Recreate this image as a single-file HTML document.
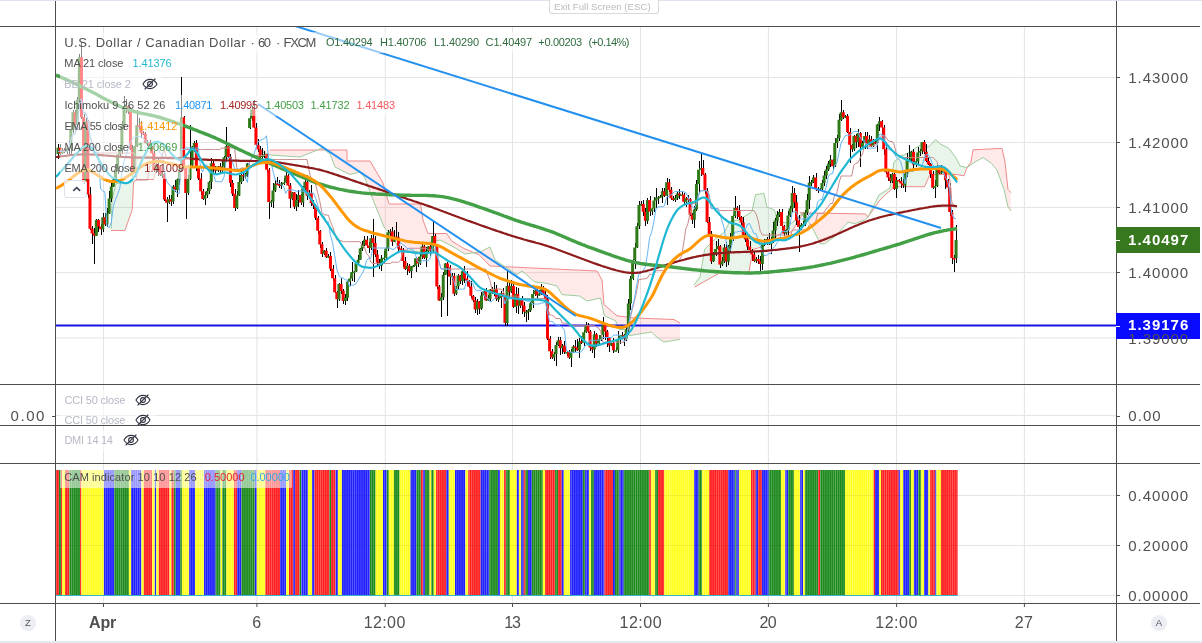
<!DOCTYPE html>
<html lang="en"><head><meta charset="utf-8"><title>USDCAD chart</title>
<style>
html,body{margin:0;padding:0;background:#fff;}
body{width:1202px;height:643px;position:relative;overflow:hidden;font-family:"Liberation Sans","DejaVu Sans",sans-serif;color:#4a4a4a;}
.chart{position:absolute;left:0;top:0;}
.topline{position:absolute;left:0;top:0;width:1202px;height:1px;background:#dfe3ee;}
.botline{position:absolute;left:0;top:641px;width:1202px;height:2px;background:#e6e9f1;}
.exit{position:absolute;left:549px;top:0;width:108px;height:13px;border:1px solid #d9d9d9;border-top:none;border-radius:0 0 3px 3px;background:#fff;}
.t{position:absolute;white-space:pre;}
.bx{position:absolute;background:rgba(255,255,255,0.53);border-radius:1px;}
.eye{position:absolute;}
.tag{position:absolute;left:1116px;width:84px;height:26px;}
.tag i{position:absolute;left:0;top:12.5px;width:4px;height:1px;background:#fff;}
.circ{position:absolute;width:16px;height:16px;border-radius:8px;background:#eceef3;font-size:9.5px;line-height:16px;text-align:center;color:#555;}
.collapse{position:absolute;left:64px;top:180px;width:21px;height:16px;border:1px solid #dde1ec;border-radius:3px;background:rgba(255,255,255,0.8);}
</style></head><body>
<svg class="chart" width="1202" height="643" viewBox="0 0 1202 643">
<line x1="103.5" y1="27" x2="103.5" y2="603" stroke="#e4e4e4" stroke-width="1"/>
<line x1="256.9" y1="27" x2="256.9" y2="603" stroke="#e4e4e4" stroke-width="1"/>
<line x1="385.2" y1="27" x2="385.2" y2="603" stroke="#e4e4e4" stroke-width="1"/>
<line x1="512.5" y1="27" x2="512.5" y2="603" stroke="#e4e4e4" stroke-width="1"/>
<line x1="640.5" y1="27" x2="640.5" y2="603" stroke="#e4e4e4" stroke-width="1"/>
<line x1="768.4" y1="27" x2="768.4" y2="603" stroke="#e4e4e4" stroke-width="1"/>
<line x1="896.6" y1="27" x2="896.6" y2="603" stroke="#e4e4e4" stroke-width="1"/>
<line x1="1024.4" y1="27" x2="1024.4" y2="603" stroke="#e4e4e4" stroke-width="1"/>
<line x1="56" y1="77.5" x2="1116" y2="77.5" stroke="#e4e4e4" stroke-width="1"/>
<line x1="56" y1="142.5" x2="1116" y2="142.5" stroke="#e4e4e4" stroke-width="1"/>
<line x1="56" y1="207.5" x2="1116" y2="207.5" stroke="#e4e4e4" stroke-width="1"/>
<line x1="56" y1="272.6" x2="1116" y2="272.6" stroke="#e4e4e4" stroke-width="1"/>
<line x1="56" y1="337.9" x2="1116" y2="337.9" stroke="#e4e4e4" stroke-width="1"/>
<line x1="56" y1="415.5" x2="1116" y2="415.5" stroke="#e4e4e4" stroke-width="1"/>
<line x1="56" y1="495.5" x2="1116" y2="495.5" stroke="#e4e4e4" stroke-width="1"/>
<line x1="56" y1="545.5" x2="1116" y2="545.5" stroke="#e4e4e4" stroke-width="1"/>
<line x1="56" y1="595.5" x2="1116" y2="595.5" stroke="#e4e4e4" stroke-width="1"/>
<defs><clipPath id="mp"><rect x="56" y="27" width="1060" height="357"/></clipPath></defs>
<g clip-path="url(#mp)">
<polygon points="270.0,150.0 347.0,150.0 347.0,161.0 370.0,161.0 383.0,183.0 389.0,204.0 420.6,204.0 423.0,220.0 428.0,233.5 446.7,233.5 451.7,241.0 464.0,248.5 479.0,254.7 490.0,266.0 597.0,271.0 602.0,280.0 604.0,304.6 617.0,315.8 634.0,318.0 674.0,319.5 680.0,323.0 680.0,339.4 664.0,342.0 656.6,337.0 651.6,332.0 629.0,335.7 627.0,329.5 619.0,329.5 615.6,320.7 604.4,315.8 600.6,298.0 587.0,301.0 579.5,296.0 562.0,294.6 557.0,286.0 545.0,283.0 535.0,282.0 522.0,271.0 517.0,274.7 495.0,260.0 490.0,247.0 480.0,252.0 465.0,254.0 452.0,246.0 440.0,240.0 425.6,243.0 420.0,252.0 399.5,250.0 392.0,236.0 384.0,227.0 380.0,217.0 372.0,197.0 365.0,178.0 360.0,172.0 350.0,174.5 335.0,167.0 330.0,154.0 322.0,148.0 310.0,153.0 300.0,157.0 270.0,155.0 258.0,150.0" fill="rgba(255,82,82,0.13)" stroke="none"/>
<polyline points="270.0,150.0 347.0,150.0 347.0,161.0 370.0,161.0 383.0,183.0 389.0,204.0 420.6,204.0 423.0,220.0 428.0,233.5 446.7,233.5 451.7,241.0 464.0,248.5 479.0,254.7 490.0,266.0 597.0,271.0 602.0,280.0 604.0,304.6 617.0,315.8 634.0,318.0 674.0,319.5 680.0,323.0" fill="none" stroke="#ef8a8a" stroke-width="1"/>
<polyline points="258.0,150.0 270.0,155.0 300.0,157.0 310.0,153.0 322.0,148.0 330.0,154.0 335.0,167.0 350.0,174.5 360.0,172.0 365.0,178.0 372.0,197.0 380.0,217.0 384.0,227.0 392.0,236.0 399.5,250.0 420.0,252.0 425.6,243.0 440.0,240.0 452.0,246.0 465.0,254.0 480.0,252.0 490.0,247.0 495.0,260.0 517.0,274.7 522.0,271.0 535.0,282.0 545.0,283.0 557.0,286.0 562.0,294.6 579.5,296.0 587.0,301.0 600.6,298.0 604.4,315.8 615.6,320.7 619.0,329.5 627.0,329.5 629.0,335.7 651.6,332.0 656.6,337.0 664.0,342.0 680.0,339.4" fill="none" stroke="#9ccc9c" stroke-width="1"/>
<polygon points="111.2,229.0 112.0,200.0 116.0,183.5 132.0,182.0 134.0,150.0 140.0,142.0 150.0,145.0 157.0,162.0 157.0,165.0 154.7,175.8 153.5,179.5 137.3,179.5 133.6,182.0 132.3,209.4 124.9,230.5 111.2,230.5" fill="rgba(76,175,80,0.12)" stroke="none"/>
<polyline points="111.2,230.5 124.9,230.5 132.3,209.4 133.6,182.0 137.3,179.5 153.5,179.5 154.7,175.8 157.0,165.0" fill="none" stroke="#ef8a8a" stroke-width="1"/>
<polyline points="111.2,229.0 112.0,200.0 116.0,183.5 132.0,182.0 134.0,150.0 140.0,142.0 150.0,145.0 157.0,162.0" fill="none" stroke="#9ccc9c" stroke-width="1"/>
<polygon points="694.0,285.0 700.0,276.8 704.6,249.4 714.5,239.5 724.5,232.0 729.5,222.0 739.4,219.6 751.8,212.0 755.6,194.7 764.0,193.4 766.8,207.0 774.0,209.6 779.0,222.0 791.6,223.3 804.0,212.0 804.0,212.0 791.6,232.0 779.0,234.5 761.8,247.0 753.0,249.4 749.0,271.8 719.5,273.0 694.6,287.0" fill="rgba(76,175,80,0.12)" stroke="none"/>
<polyline points="694.6,287.0 719.5,273.0 749.0,271.8 753.0,249.4 761.8,247.0 779.0,234.5 791.6,232.0 804.0,212.0" fill="none" stroke="#ef8a8a" stroke-width="1"/>
<polyline points="694.0,285.0 700.0,276.8 704.6,249.4 714.5,239.5 724.5,232.0 729.5,222.0 739.4,219.6 751.8,212.0 755.6,194.7 764.0,193.4 766.8,207.0 774.0,209.6 779.0,222.0 791.6,223.3 804.0,212.0" fill="none" stroke="#9ccc9c" stroke-width="1"/>
<polygon points="800.0,212.7 865.7,214.0 868.0,217.0 868.0,217.0 865.7,219.6 854.7,223.7 848.0,222.0 835.6,236.0 824.6,243.6 820.5,244.0 811.0,225.0 800.0,212.7" fill="rgba(255,82,82,0.13)" stroke="none"/>
<polyline points="800.0,212.7 865.7,214.0 868.0,217.0" fill="none" stroke="#ef8a8a" stroke-width="1"/>
<polyline points="800.0,212.7 811.0,225.0 820.5,244.0 824.6,243.6 835.6,236.0 848.0,222.0 854.7,223.7 865.7,219.6 868.0,217.0" fill="none" stroke="#9ccc9c" stroke-width="1"/>
<polygon points="868.0,217.0 879.0,195.0 890.0,188.0 894.0,162.0 900.0,156.6 909.5,152.5 920.0,145.0 928.6,147.0 935.5,139.7 941.0,144.3 949.0,148.4 956.0,158.0 960.0,166.0 967.0,167.6 967.0,167.6 964.0,175.8 956.0,174.4 930.0,174.4 924.5,186.7 894.0,186.7 880.0,200.0 868.0,217.0" fill="rgba(76,175,80,0.12)" stroke="none"/>
<polyline points="868.0,217.0 880.0,200.0 894.0,186.7 924.5,186.7 930.0,174.4 956.0,174.4 964.0,175.8 967.0,167.6" fill="none" stroke="#ef8a8a" stroke-width="1"/>
<polyline points="868.0,217.0 879.0,195.0 890.0,188.0 894.0,162.0 900.0,156.6 909.5,152.5 920.0,145.0 928.6,147.0 935.5,139.7 941.0,144.3 949.0,148.4 956.0,158.0 960.0,166.0 967.0,167.6" fill="none" stroke="#9ccc9c" stroke-width="1"/>
<polygon points="967.0,167.6 971.0,162.0 973.0,149.8 1002.0,148.4 1005.0,162.0 1008.0,189.5 1011.0,192.7 1011.0,211.0 1008.0,207.0 1004.0,189.5 997.0,170.0 991.5,163.5 983.0,157.4 975.0,162.0 967.0,167.6" fill="rgba(255,82,82,0.13)" stroke="none"/>
<polyline points="967.0,167.6 971.0,162.0 973.0,149.8 1002.0,148.4 1005.0,162.0 1008.0,189.5 1011.0,192.7" fill="none" stroke="#ef8a8a" stroke-width="1"/>
<polyline points="967.0,167.6 975.0,162.0 983.0,157.4 991.5,163.5 997.0,170.0 1004.0,189.5 1008.0,207.0 1011.0,211.0" fill="none" stroke="#9ccc9c" stroke-width="1"/>
<rect x="56" y="324.5" width="1060" height="2" fill="#1414e6"/>
<path d="M58.5 144.2V158.6M60.5 143.9V154.5M62.5 148.3V153.8M64.5 147.9V152.9M67.5 148.0V153.8M69.5 141.4V155.9M71.5 121.6V154.1M73.5 110.0V132.5M75.5 109.6V127.5M77.5 97.2V129.6M79.5 53.7V103.3M81.5 42.0V118.6M84.5 114.0V183.8M86.5 117.6V183.4M88.5 119.6V197.5M90.5 186.9V230.4M92.5 225.9V243.5M94.5 227.8V264.0M96.5 218.5V236.4M98.5 219.0V231.6M101.5 223.9V234.8M103.5 213.4V231.7M105.5 213.1V226.3M107.5 207.8V227.0M109.5 191.4V214.2M111.5 182.0V202.3M113.5 177.1V187.4M115.5 163.5V182.3M118.5 154.0V173.6M120.5 145.5V156.9M122.5 120.6V154.2M124.5 96.0V130.0M126.5 99.1V112.8M128.5 104.5V114.4M130.5 106.5V149.6M132.5 144.5V173.8M135.5 137.6V177.2M137.5 110.0V146.9M139.5 117.7V128.9M141.5 120.9V137.7M143.5 130.9V135.3M145.5 132.1V143.4M147.5 140.1V145.6M150.5 139.8V147.4M152.5 145.9V154.4M154.5 151.3V172.0M156.5 162.3V173.4M158.5 157.8V175.9M160.5 164.5V175.5M162.5 172.3V177.6M164.5 173.4V200.5M167.5 196.9V222.0M169.5 194.5V203.9M171.5 195.2V206.1M173.5 184.5V203.6M175.5 180.0V191.6M177.5 178.0V196.7M179.5 164.9V185.2M181.5 77.0V172.2M184.5 116.2V168.0M186.5 165.8V219.0M188.5 174.7V194.6M190.5 125.0V180.1M192.5 145.5V167.9M194.5 141.2V151.7M196.5 140.4V171.0M198.5 166.2V180.3M201.5 172.7V195.1M203.5 188.7V199.9M205.5 191.7V205.0M207.5 187.7V197.9M209.5 181.3V193.6M211.5 158.3V188.8M213.5 158.7V173.8M215.5 165.8V174.0M218.5 165.5V171.7M220.5 163.4V174.3M222.5 159.6V173.7M224.5 156.1V169.7M226.5 127.0V162.4M228.5 144.1V158.2M230.5 153.9V186.7M232.5 179.6V196.2M235.5 188.9V211.0M237.5 191.2V208.9M239.5 175.3V196.1M241.5 168.9V183.5M243.5 172.5V180.7M245.5 173.1V178.6M247.5 162.9V177.3M250.5 113.3V128.7M252.5 105.6V120.8M254.5 100.0V128.1M256.5 122.8V146.5M258.5 139.2V151.9M260.5 146.4V158.6M262.5 147.9V159.9M264.5 151.0V157.8M267.5 153.6V171.6M269.5 167.7V219.0M271.5 199.8V207.4M273.5 183.1V208.0M275.5 179.7V191.9M277.5 176.5V185.4M279.5 180.1V187.5M281.5 182.0V188.6M284.5 177.6V184.6M286.5 171.8V183.3M288.5 173.7V186.0M290.5 182.7V208.2M292.5 191.8V200.2M294.5 191.6V209.1M296.5 194.0V210.6M298.5 189.9V206.9M301.5 194.1V204.5M303.5 186.3V206.5M305.5 176.7V190.6M307.5 175.3V199.7M309.5 190.0V199.1M311.5 184.9V206.2M313.5 199.6V209.2M315.5 203.5V219.5M318.5 216.3V234.2M320.5 230.2V247.7M322.5 242.4V257.3M324.5 250.1V255.0M326.5 248.0V258.3M328.5 254.0V258.3M330.5 251.8V270.9M333.5 265.0V281.3M335.5 274.5V293.2M337.5 290.5V308.0M339.5 282.7V300.8M341.5 278.2V293.7M343.5 289.4V304.0M345.5 293.7V305.4M347.5 281.2V301.2M350.5 275.8V285.5M352.5 262.3V281.1M354.5 270.6V281.5M356.5 262.6V272.0M358.5 255.2V264.3M360.5 247.7V260.3M362.5 241.2V250.9M364.5 236.3V245.6M367.5 235.6V248.2M369.5 241.9V253.1M371.5 235.3V250.4M373.5 219.0V277.0M375.5 236.2V256.7M377.5 250.0V267.0M379.5 259.2V269.2M381.5 254.8V271.4M384.5 250.8V262.7M386.5 247.1V260.6M388.5 229.5V251.4M390.5 228.7V236.6M392.5 227.2V246.0M394.5 230.0V242.3M396.5 222.0V238.2M398.5 231.9V251.3M401.5 245.6V251.4M403.5 247.5V267.1M405.5 257.1V269.6M407.5 262.9V275.0M409.5 264.4V272.9M411.5 265.7V277.6M413.5 264.8V267.0M416.5 257.2V271.5M418.5 256.5V266.6M420.5 252.3V264.9M422.5 244.0V258.5M424.5 245.3V258.6M426.5 246.6V266.7M428.5 245.8V253.9M430.5 244.9V255.7M433.5 221.0V252.5M435.5 233.8V249.6M437.5 244.1V289.3M439.5 285.1V300.9M441.5 292.8V317.0M443.5 272.2V300.2M445.5 263.0V275.4M447.5 262.2V316.0M450.5 265.0V284.7M452.5 272.9V279.9M454.5 272.5V296.0M456.5 285.6V295.3M458.5 273.6V289.2M460.5 275.1V284.3M462.5 269.5V284.7M464.5 266.0V283.3M467.5 270.9V285.6M469.5 280.1V288.2M471.5 280.6V298.2M473.5 295.1V301.8M475.5 297.0V312.8M477.5 299.2V315.4M479.5 300.5V314.2M481.5 291.9V310.3M484.5 289.6V298.2M486.5 288.4V301.1M488.5 294.8V301.1M490.5 288.6V301.1M492.5 287.0V294.0M494.5 281.7V295.7M496.5 285.2V301.4M498.5 295.1V301.7M501.5 291.3V307.5M503.5 287.9V297.7M505.5 296.1V326.2M507.5 271.0V325.8M509.5 281.3V297.9M511.5 280.1V293.2M513.5 280.9V308.2M516.5 287.2V312.5M518.5 287.7V313.7M520.5 297.9V307.6M522.5 296.1V313.7M524.5 301.6V317.1M526.5 310.2V322.0M528.5 308.8V320.0M530.5 302.1V312.4M533.5 289.8V307.8M535.5 286.0V296.2M537.5 288.0V297.5M539.5 290.1V296.1M541.5 284.0V295.3M543.5 286.3V295.2M545.5 288.5V301.2M547.5 294.8V339.6M550.5 335.7V359.0M552.5 348.5V359.1M554.5 351.5V361.1M556.5 342.4V366.0M558.5 337.3V345.5M560.5 337.2V354.5M562.5 344.1V354.4M564.5 341.2V354.0M567.5 351.0V356.4M569.5 349.7V358.8M571.5 349.1V367.4M573.5 344.9V352.7M575.5 340.3V352.3M577.5 338.9V350.8M579.5 337.7V358.2M581.5 335.9V344.3M584.5 329.6V345.5M586.5 322.3V332.8M588.5 323.4V332.5M590.5 330.1V351.1M592.5 345.3V353.4M594.5 330.5V358.0M596.5 332.7V347.0M599.5 335.2V344.6M601.5 334.5V340.7M603.5 317.1V338.6M605.5 324.2V339.6M607.5 329.9V346.9M609.5 336.8V351.5M611.5 342.6V346.2M613.5 338.3V353.2M616.5 347.2V351.1M618.5 330.9V353.0M620.5 334.9V344.0M622.5 332.4V336.9M624.5 333.9V345.8M626.5 326.5V341.3M628.5 299.2V334.6M630.5 276.3V309.6M633.5 258.6V279.6M635.5 242.7V269.2M637.5 223.0V248.4M639.5 201.1V229.0M641.5 201.0V206.3M643.5 199.6V215.9M645.5 208.3V225.5M647.5 198.0V223.7M650.5 195.6V216.2M652.5 207.8V214.7M654.5 196.5V211.9M656.5 188.2V207.5M658.5 196.0V204.2M660.5 194.5V197.8M662.5 187.9V203.2M664.5 187.9V196.9M667.5 178.2V204.9M669.5 178.6V191.8M671.5 186.8V199.7M673.5 196.3V201.0M675.5 195.4V202.1M677.5 191.6V200.0M679.5 188.9V198.9M682.5 190.9V196.1M684.5 192.8V205.1M686.5 196.5V206.6M688.5 194.9V201.6M690.5 197.6V216.4M692.5 213.1V223.7M694.5 205.8V228.4M696.5 180.4V211.2M699.5 161.4V193.3M701.5 153.0V175.5M703.5 159.8V175.4M705.5 172.6V194.4M707.5 188.2V223.0M709.5 216.8V237.4M711.5 230.6V264.3M713.5 251.8V261.7M716.5 240.6V255.8M718.5 239.3V249.9M720.5 245.0V268.0M722.5 256.8V265.8M724.5 243.8V263.4M726.5 242.2V266.5M728.5 245.1V264.5M730.5 233.0V252.0M733.5 214.9V241.2M735.5 196.0V217.8M737.5 206.2V218.7M739.5 204.8V219.6M741.5 215.5V224.6M743.5 217.4V236.7M745.5 230.2V242.3M747.5 237.0V250.1M750.5 241.1V251.4M752.5 249.1V260.9M754.5 251.9V262.2M756.5 257.1V262.8M758.5 255.3V263.9M760.5 256.0V274.0M762.5 243.2V270.4M764.5 239.2V246.2M767.5 236.7V244.7M769.5 232.9V244.9M771.5 236.9V254.1M773.5 222.3V243.4M775.5 218.1V238.7M777.5 210.8V225.8M779.5 209.2V217.0M782.5 208.9V229.8M784.5 224.8V236.4M786.5 229.0V234.6M788.5 210.5V237.3M790.5 206.2V217.2M792.5 186.0V211.7M794.5 188.1V208.2M796.5 195.3V224.6M799.5 215.2V252.0M801.5 223.4V230.2M803.5 220.9V226.8M805.5 210.0V225.6M807.5 193.6V214.9M809.5 175.6V208.5M811.5 180.0V185.6M813.5 175.1V183.0M816.5 173.2V191.1M818.5 186.7V192.6M820.5 188.1V190.8M822.5 180.0V191.4M824.5 170.9V186.0M826.5 166.2V178.8M828.5 160.8V171.0M830.5 155.1V167.0M833.5 158.5V170.2M835.5 137.6V167.1M837.5 134.8V147.7M839.5 114.1V141.0M841.5 100.0V120.9M843.5 109.7V119.3M845.5 115.4V118.4M847.5 113.7V133.3M850.5 128.4V163.0M852.5 143.5V151.8M854.5 135.0V150.8M856.5 134.3V147.9M858.5 129.2V147.3M860.5 132.3V167.0M862.5 140.5V148.8M865.5 132.4V148.5M867.5 132.3V148.7M869.5 135.3V145.4M871.5 136.1V146.9M873.5 139.2V147.1M875.5 138.8V143.6M877.5 123.7V151.8M879.5 117.0V131.4M882.5 120.2V135.5M884.5 125.1V154.6M886.5 142.2V174.1M888.5 169.5V180.8M890.5 174.2V182.9M892.5 172.6V182.6M894.5 173.2V190.0M896.5 176.7V198.0M899.5 178.6V181.6M901.5 176.9V188.1M903.5 178.8V187.8M905.5 170.2V191.8M907.5 153.1V176.7M909.5 145.0V161.1M911.5 150.6V160.7M913.5 149.4V169.6M916.5 158.9V167.1M918.5 147.1V165.2M920.5 149.0V156.2M922.5 141.5V154.4M924.5 139.5V154.4M926.5 144.3V161.7M928.5 157.0V165.3M930.5 163.2V177.8M933.5 171.2V188.8M935.5 180.1V198.0M937.5 164.5V186.6M939.5 166.5V173.9M941.5 165.4V174.2M943.5 166.6V172.7M945.5 169.3V189.1M948.5 178.6V193.2M950.5 183.1V215.6M952.5 210.2V263.6M954.5 255.1V272.0M956.5 225.0V263.1" stroke="#000" stroke-width="1" fill="none" shape-rendering="crispEdges"/>
<path d="M56.55 147.7h3v6.3h-3z" fill="#2f7a18"/>
<path d="M58.68 147.7h3v5.6h-3z" fill="#ff0000"/>
<path d="M60.81 149.8h3v3.5h-3z" fill="#2f7a18"/>
<path d="M62.93 149.8h3v1.9h-3z" fill="#ff0000"/>
<path d="M65.06 149.3h3v2.4h-3zM67.19 147.8h3v1.5h-3zM69.32 129.7h3v18.1h-3zM71.45 112.3h3v17.4h-3z" fill="#2f7a18"/>
<path d="M73.57 112.3h3v12.6h-3z" fill="#ff0000"/>
<path d="M75.70 99.7h3v25.3h-3zM77.83 57.2h3v42.4h-3z" fill="#2f7a18"/>
<path d="M79.96 57.2h3v60.0h-3zM82.09 117.2h3v64.8h-3z" fill="#ff0000"/>
<path d="M84.21 121.0h3v61.0h-3z" fill="#2f7a18"/>
<path d="M86.34 121.0h3v73.5h-3zM88.47 194.5h3v34.3h-3zM90.60 228.7h3v4.7h-3zM92.73 233.5h3v2.3h-3z" fill="#ff0000"/>
<path d="M94.85 219.9h3v15.9h-3z" fill="#2f7a18"/>
<path d="M96.98 219.9h3v6.6h-3zM99.11 226.5h3v2.8h-3z" fill="#ff0000"/>
<path d="M101.24 217.3h3v12.0h-3z" fill="#2f7a18"/>
<path d="M103.37 217.3h3v7.2h-3z" fill="#ff0000"/>
<path d="M105.49 213.4h3v11.1h-3zM107.62 198.4h3v15.0h-3zM109.75 186.4h3v12.0h-3zM111.88 179.6h3v6.8h-3zM114.01 169.6h3v10.0h-3zM116.13 154.6h3v15.0h-3zM118.26 149.4h3v5.2h-3zM120.39 125.9h3v23.5h-3zM122.52 106.4h3v19.5h-3zM124.65 106.1h3v1.5h-3z" fill="#2f7a18"/>
<path d="M126.77 106.1h3v5.5h-3zM128.90 111.7h3v37.0h-3zM131.03 148.6h3v24.5h-3z" fill="#ff0000"/>
<path d="M133.16 146.0h3v27.2h-3zM135.29 125.3h3v20.7h-3z" fill="#2f7a18"/>
<path d="M137.41 125.3h3v1.5h-3zM139.54 125.9h3v6.9h-3zM141.67 132.7h3v1.5h-3zM143.80 133.8h3v8.6h-3z" fill="#ff0000"/>
<path d="M145.93 142.3h3v1.5h-3z" fill="#2f7a18"/>
<path d="M148.05 142.3h3v4.6h-3zM150.18 146.9h3v6.4h-3zM152.31 153.3h3v16.9h-3z" fill="#ff0000"/>
<path d="M154.44 164.7h3v5.5h-3z" fill="#2f7a18"/>
<path d="M156.57 164.7h3v1.8h-3zM158.69 166.5h3v8.3h-3z" fill="#ff0000"/>
<path d="M160.82 174.3h3v1.5h-3z" fill="#2f7a18"/>
<path d="M162.95 174.3h3v25.1h-3zM165.08 199.4h3v3.3h-3z" fill="#ff0000"/>
<path d="M167.21 199.2h3v3.5h-3z" fill="#2f7a18"/>
<path d="M169.33 199.2h3v2.3h-3z" fill="#ff0000"/>
<path d="M171.46 186.5h3v15.0h-3z" fill="#2f7a18"/>
<path d="M173.59 186.5h3v3.4h-3z" fill="#ff0000"/>
<path d="M175.72 179.6h3v10.3h-3zM177.85 169.2h3v10.4h-3zM179.97 117.3h3v52.0h-3z" fill="#2f7a18"/>
<path d="M182.10 117.3h3v49.6h-3zM184.23 166.8h3v26.2h-3z" fill="#ff0000"/>
<path d="M186.36 178.9h3v14.1h-3zM188.49 164.9h3v14.0h-3zM190.61 146.5h3v18.4h-3zM192.74 143.1h3v3.4h-3z" fill="#2f7a18"/>
<path d="M194.87 143.1h3v24.0h-3zM197.00 167.1h3v11.3h-3zM199.13 178.4h3v12.9h-3zM201.25 191.3h3v7.7h-3z" fill="#ff0000"/>
<path d="M203.38 195.3h3v3.8h-3zM205.51 191.0h3v4.3h-3zM207.64 182.1h3v8.9h-3zM209.77 163.2h3v18.9h-3z" fill="#2f7a18"/>
<path d="M211.89 163.2h3v4.9h-3zM214.02 168.1h3v2.7h-3z" fill="#ff0000"/>
<path d="M216.15 166.4h3v4.3h-3z" fill="#2f7a18"/>
<path d="M218.28 166.4h3v4.0h-3z" fill="#ff0000"/>
<path d="M220.41 166.6h3v3.8h-3zM222.53 157.2h3v9.4h-3zM224.66 146.2h3v11.0h-3z" fill="#2f7a18"/>
<path d="M226.79 146.2h3v10.6h-3zM228.92 156.8h3v26.3h-3zM231.05 183.1h3v10.6h-3zM233.17 193.7h3v14.2h-3z" fill="#ff0000"/>
<path d="M235.30 195.5h3v12.4h-3zM237.43 182.1h3v13.4h-3zM239.56 174.9h3v7.2h-3z" fill="#2f7a18"/>
<path d="M241.69 174.9h3v1.5h-3z" fill="#ff0000"/>
<path d="M243.81 173.9h3v2.5h-3zM245.94 163.4h3v10.5h-3zM248.07 118.3h3v9.7h-3zM250.20 109.4h3v9.0h-3z" fill="#2f7a18"/>
<path d="M252.33 109.4h3v18.1h-3zM254.45 127.5h3v17.3h-3zM256.58 144.7h3v4.7h-3zM258.71 149.4h3v7.7h-3z" fill="#ff0000"/>
<path d="M260.84 154.7h3v2.4h-3zM262.97 154.2h3v1.5h-3z" fill="#2f7a18"/>
<path d="M265.09 154.2h3v15.6h-3zM267.22 169.8h3v32.1h-3z" fill="#ff0000"/>
<path d="M269.35 201.4h3v1.5h-3zM271.48 190.4h3v11.0h-3zM273.61 183.6h3v6.8h-3z" fill="#2f7a18"/>
<path d="M275.73 183.6h3v1.5h-3zM277.86 184.5h3v1.5h-3z" fill="#ff0000"/>
<path d="M279.99 183.6h3v1.7h-3zM282.12 182.5h3v1.5h-3zM284.25 175.4h3v7.1h-3z" fill="#2f7a18"/>
<path d="M286.37 175.4h3v10.0h-3zM288.50 185.4h3v13.3h-3z" fill="#ff0000"/>
<path d="M290.63 192.4h3v6.3h-3z" fill="#2f7a18"/>
<path d="M292.76 192.4h3v14.4h-3z" fill="#ff0000"/>
<path d="M294.89 200.0h3v6.7h-3zM297.01 195.1h3v5.0h-3z" fill="#2f7a18"/>
<path d="M299.14 195.1h3v7.5h-3z" fill="#ff0000"/>
<path d="M301.27 188.2h3v14.4h-3zM303.40 181.8h3v6.5h-3z" fill="#2f7a18"/>
<path d="M305.53 181.8h3v14.0h-3z" fill="#ff0000"/>
<path d="M307.65 193.0h3v2.7h-3z" fill="#2f7a18"/>
<path d="M309.78 193.0h3v10.1h-3zM311.91 203.1h3v2.5h-3zM314.04 205.6h3v12.2h-3zM316.17 217.7h3v13.1h-3zM318.29 230.9h3v13.5h-3zM320.42 244.3h3v9.6h-3z" fill="#ff0000"/>
<path d="M322.55 250.6h3v3.2h-3z" fill="#2f7a18"/>
<path d="M324.68 250.6h3v6.5h-3z" fill="#ff0000"/>
<path d="M326.81 256.0h3v1.5h-3z" fill="#2f7a18"/>
<path d="M328.93 256.0h3v12.7h-3zM331.06 268.7h3v9.5h-3zM333.19 278.2h3v14.1h-3zM335.32 292.3h3v7.0h-3z" fill="#ff0000"/>
<path d="M337.45 283.9h3v15.5h-3z" fill="#2f7a18"/>
<path d="M339.57 283.9h3v6.8h-3zM341.70 290.7h3v10.4h-3z" fill="#ff0000"/>
<path d="M343.83 297.7h3v3.4h-3zM345.96 281.8h3v15.9h-3zM348.09 278.4h3v3.4h-3zM350.21 271.9h3v6.5h-3zM352.34 271.4h3v1.5h-3zM354.47 263.2h3v8.2h-3zM356.60 259.8h3v3.4h-3zM358.73 248.6h3v11.2h-3zM360.85 244.6h3v3.9h-3zM362.98 239.8h3v4.9h-3z" fill="#2f7a18"/>
<path d="M365.11 239.8h3v5.7h-3zM367.24 245.5h3v2.4h-3z" fill="#ff0000"/>
<path d="M369.37 238.2h3v9.7h-3z" fill="#2f7a18"/>
<path d="M371.49 238.2h3v4.8h-3zM373.62 243.1h3v11.4h-3zM375.75 254.4h3v8.0h-3zM377.88 262.4h3v3.1h-3z" fill="#ff0000"/>
<path d="M380.01 258.5h3v6.9h-3zM382.13 257.7h3v1.5h-3zM384.26 248.5h3v9.2h-3zM386.39 232.3h3v16.2h-3zM388.52 231.4h3v1.5h-3z" fill="#2f7a18"/>
<path d="M390.65 231.4h3v10.3h-3z" fill="#ff0000"/>
<path d="M392.77 236.8h3v4.9h-3z" fill="#2f7a18"/>
<path d="M394.90 236.8h3v1.5h-3zM397.03 237.6h3v10.9h-3zM399.16 248.5h3v1.5h-3zM401.29 249.6h3v11.4h-3zM403.41 261.0h3v8.0h-3z" fill="#ff0000"/>
<path d="M405.54 265.8h3v3.2h-3z" fill="#2f7a18"/>
<path d="M407.67 265.8h3v5.5h-3z" fill="#ff0000"/>
<path d="M409.80 266.3h3v5.0h-3zM411.93 265.8h3v1.5h-3zM414.05 258.3h3v7.5h-3z" fill="#2f7a18"/>
<path d="M416.18 258.3h3v5.2h-3z" fill="#ff0000"/>
<path d="M418.31 256.6h3v6.9h-3zM420.44 246.4h3v10.2h-3z" fill="#2f7a18"/>
<path d="M422.57 246.4h3v11.5h-3z" fill="#ff0000"/>
<path d="M424.69 251.0h3v6.9h-3zM426.82 246.6h3v4.4h-3z" fill="#2f7a18"/>
<path d="M428.95 246.6h3v4.2h-3z" fill="#ff0000"/>
<path d="M431.08 236.0h3v14.7h-3z" fill="#2f7a18"/>
<path d="M433.21 236.0h3v9.3h-3zM435.33 245.3h3v41.1h-3zM437.46 286.4h3v14.0h-3z" fill="#ff0000"/>
<path d="M439.59 297.2h3v3.2h-3zM441.72 274.7h3v22.5h-3zM443.85 263.6h3v11.1h-3z" fill="#2f7a18"/>
<path d="M445.97 263.6h3v3.6h-3zM448.10 267.2h3v9.6h-3z" fill="#ff0000"/>
<path d="M450.23 275.8h3v1.5h-3z" fill="#2f7a18"/>
<path d="M452.36 275.8h3v17.9h-3z" fill="#ff0000"/>
<path d="M454.49 286.3h3v7.5h-3zM456.61 275.6h3v10.7h-3z" fill="#2f7a18"/>
<path d="M458.74 275.6h3v5.4h-3z" fill="#ff0000"/>
<path d="M460.87 271.2h3v9.8h-3z" fill="#2f7a18"/>
<path d="M463.00 271.2h3v7.3h-3zM465.13 278.5h3v2.2h-3zM467.25 280.8h3v5.9h-3zM469.38 286.6h3v9.2h-3zM471.51 295.9h3v4.3h-3zM473.64 300.2h3v9.2h-3z" fill="#ff0000"/>
<path d="M475.77 301.4h3v8.0h-3z" fill="#2f7a18"/>
<path d="M477.89 301.4h3v7.2h-3z" fill="#ff0000"/>
<path d="M480.02 295.6h3v13.0h-3zM482.15 291.3h3v4.3h-3z" fill="#2f7a18"/>
<path d="M484.28 291.3h3v9.2h-3z" fill="#ff0000"/>
<path d="M486.41 299.1h3v1.5h-3zM488.53 289.6h3v9.5h-3z" fill="#2f7a18"/>
<path d="M490.66 289.6h3v2.4h-3z" fill="#ff0000"/>
<path d="M492.79 288.8h3v3.3h-3z" fill="#2f7a18"/>
<path d="M494.92 288.8h3v10.2h-3z" fill="#ff0000"/>
<path d="M497.05 297.9h3v1.5h-3zM499.17 293.3h3v4.6h-3z" fill="#2f7a18"/>
<path d="M501.30 293.3h3v3.8h-3zM503.43 297.1h3v25.9h-3z" fill="#ff0000"/>
<path d="M505.56 285.9h3v37.1h-3z" fill="#2f7a18"/>
<path d="M507.69 285.9h3v5.7h-3z" fill="#ff0000"/>
<path d="M509.81 286.0h3v5.6h-3z" fill="#2f7a18"/>
<path d="M511.94 286.0h3v20.9h-3z" fill="#ff0000"/>
<path d="M514.07 293.9h3v13.0h-3z" fill="#2f7a18"/>
<path d="M516.20 293.9h3v11.9h-3z" fill="#ff0000"/>
<path d="M518.33 300.0h3v5.8h-3z" fill="#2f7a18"/>
<path d="M520.45 300.0h3v5.6h-3zM522.58 305.6h3v6.2h-3z" fill="#ff0000"/>
<path d="M524.71 311.7h3v1.5h-3zM526.84 310.2h3v1.5h-3zM528.97 303.2h3v7.0h-3zM531.09 293.9h3v9.4h-3zM533.22 290.4h3v3.5h-3z" fill="#2f7a18"/>
<path d="M535.35 290.4h3v5.0h-3z" fill="#ff0000"/>
<path d="M537.48 293.5h3v1.9h-3zM539.61 289.3h3v4.2h-3z" fill="#2f7a18"/>
<path d="M541.73 289.3h3v4.9h-3zM543.86 294.3h3v5.1h-3zM545.99 299.3h3v39.2h-3zM548.12 338.6h3v12.7h-3zM550.25 351.3h3v6.2h-3z" fill="#ff0000"/>
<path d="M552.37 353.9h3v3.6h-3zM554.50 344.9h3v9.0h-3zM556.63 340.2h3v4.8h-3z" fill="#2f7a18"/>
<path d="M558.76 340.2h3v7.9h-3z" fill="#ff0000"/>
<path d="M560.89 345.6h3v2.4h-3z" fill="#2f7a18"/>
<path d="M563.01 345.6h3v6.6h-3z" fill="#ff0000"/>
<path d="M565.14 352.1h3v1.5h-3z" fill="#2f7a18"/>
<path d="M567.27 352.1h3v5.6h-3z" fill="#ff0000"/>
<path d="M569.40 351.8h3v5.9h-3zM571.53 346.6h3v5.2h-3z" fill="#2f7a18"/>
<path d="M573.65 346.6h3v1.5h-3zM575.78 347.5h3v2.7h-3z" fill="#ff0000"/>
<path d="M577.91 341.4h3v8.7h-3z" fill="#2f7a18"/>
<path d="M580.04 341.4h3v1.5h-3z" fill="#ff0000"/>
<path d="M582.17 332.3h3v10.5h-3zM584.29 325.6h3v6.6h-3z" fill="#2f7a18"/>
<path d="M586.42 325.6h3v5.9h-3zM588.55 331.5h3v15.9h-3zM590.68 347.4h3v2.1h-3z" fill="#ff0000"/>
<path d="M592.81 334.4h3v15.1h-3z" fill="#2f7a18"/>
<path d="M594.93 334.4h3v9.0h-3z" fill="#ff0000"/>
<path d="M597.06 339.2h3v4.2h-3zM599.19 335.1h3v4.1h-3zM601.32 324.9h3v10.2h-3z" fill="#2f7a18"/>
<path d="M603.45 324.9h3v6.7h-3zM605.57 331.6h3v6.1h-3zM607.70 337.7h3v7.7h-3z" fill="#ff0000"/>
<path d="M609.83 343.1h3v2.3h-3z" fill="#2f7a18"/>
<path d="M611.96 343.1h3v7.1h-3z" fill="#ff0000"/>
<path d="M614.09 350.2h3v1.5h-3zM616.21 339.7h3v10.4h-3zM618.34 335.4h3v4.3h-3zM620.47 334.9h3v1.5h-3z" fill="#2f7a18"/>
<path d="M622.60 334.9h3v3.9h-3z" fill="#ff0000"/>
<path d="M624.73 329.4h3v9.4h-3zM626.85 303.6h3v25.8h-3zM628.98 278.7h3v24.9h-3zM631.11 260.0h3v18.8h-3zM633.24 247.6h3v12.3h-3zM635.37 226.2h3v21.4h-3zM637.49 205.0h3v21.2h-3zM639.62 204.0h3v1.5h-3z" fill="#2f7a18"/>
<path d="M641.75 204.0h3v7.8h-3zM643.88 211.8h3v9.0h-3z" fill="#ff0000"/>
<path d="M646.01 200.1h3v20.7h-3z" fill="#2f7a18"/>
<path d="M648.13 200.1h3v11.5h-3z" fill="#ff0000"/>
<path d="M650.26 208.4h3v3.2h-3zM652.39 200.4h3v8.0h-3zM654.52 197.4h3v3.0h-3zM656.65 197.2h3v1.5h-3zM658.77 196.6h3v1.5h-3zM660.90 191.2h3v5.4h-3z" fill="#2f7a18"/>
<path d="M663.03 191.2h3v4.5h-3z" fill="#ff0000"/>
<path d="M665.16 182.2h3v13.5h-3z" fill="#2f7a18"/>
<path d="M667.29 182.2h3v7.7h-3zM669.41 189.8h3v8.5h-3zM671.54 198.3h3v1.6h-3z" fill="#ff0000"/>
<path d="M673.67 197.7h3v2.3h-3zM675.80 193.6h3v4.1h-3z" fill="#2f7a18"/>
<path d="M677.93 193.6h3v1.8h-3z" fill="#ff0000"/>
<path d="M680.05 194.5h3v1.5h-3z" fill="#2f7a18"/>
<path d="M682.18 194.5h3v7.3h-3z" fill="#ff0000"/>
<path d="M684.31 198.3h3v3.6h-3z" fill="#2f7a18"/>
<path d="M686.44 198.3h3v1.5h-3zM688.57 199.1h3v15.7h-3zM690.69 214.8h3v5.0h-3z" fill="#ff0000"/>
<path d="M692.82 209.4h3v10.4h-3zM694.95 183.9h3v25.5h-3zM697.08 169.7h3v14.2h-3zM699.21 167.9h3v1.8h-3z" fill="#2f7a18"/>
<path d="M701.33 167.9h3v6.8h-3zM703.46 174.6h3v16.1h-3zM705.59 190.7h3v31.3h-3zM707.72 222.0h3v13.2h-3zM709.85 235.3h3v25.9h-3z" fill="#ff0000"/>
<path d="M711.97 254.3h3v6.9h-3zM714.10 249.1h3v5.2h-3zM716.23 246.1h3v2.9h-3z" fill="#2f7a18"/>
<path d="M718.36 246.1h3v18.5h-3z" fill="#ff0000"/>
<path d="M720.49 261.3h3v3.3h-3zM722.61 247.4h3v13.9h-3z" fill="#2f7a18"/>
<path d="M724.74 247.4h3v14.1h-3z" fill="#ff0000"/>
<path d="M726.87 246.1h3v15.4h-3zM729.00 237.2h3v8.9h-3zM731.13 216.1h3v21.1h-3zM733.25 207.8h3v8.3h-3z" fill="#2f7a18"/>
<path d="M735.38 207.8h3v2.9h-3zM737.51 210.8h3v6.1h-3zM739.64 216.9h3v5.7h-3zM741.77 222.6h3v12.1h-3zM743.89 234.7h3v4.8h-3zM746.02 239.5h3v6.9h-3zM748.15 246.4h3v3.7h-3zM750.28 250.2h3v4.3h-3zM752.41 254.5h3v6.6h-3z" fill="#ff0000"/>
<path d="M754.53 259.0h3v2.1h-3z" fill="#2f7a18"/>
<path d="M756.66 259.0h3v2.3h-3zM758.79 261.3h3v2.6h-3z" fill="#ff0000"/>
<path d="M760.92 244.3h3v19.6h-3zM763.05 243.6h3v1.5h-3zM765.17 239.0h3v4.6h-3z" fill="#2f7a18"/>
<path d="M767.30 239.0h3v5.2h-3z" fill="#ff0000"/>
<path d="M769.43 240.8h3v3.5h-3zM771.56 230.4h3v10.4h-3zM773.69 220.6h3v9.8h-3zM775.81 214.8h3v5.7h-3zM777.94 212.0h3v2.9h-3z" fill="#2f7a18"/>
<path d="M780.07 212.0h3v14.0h-3zM782.20 226.0h3v7.2h-3z" fill="#ff0000"/>
<path d="M784.33 229.9h3v3.4h-3zM786.45 215.4h3v14.5h-3zM788.58 208.4h3v7.0h-3zM790.71 193.1h3v15.3h-3z" fill="#2f7a18"/>
<path d="M792.84 193.1h3v9.1h-3zM794.97 202.2h3v18.4h-3zM797.09 220.6h3v6.5h-3z" fill="#ff0000"/>
<path d="M799.22 224.7h3v2.4h-3zM801.35 224.3h3v1.5h-3zM803.48 212.5h3v11.8h-3zM805.61 200.3h3v12.2h-3zM807.73 182.5h3v17.7h-3zM809.86 182.0h3v1.5h-3zM811.99 177.5h3v4.5h-3z" fill="#2f7a18"/>
<path d="M814.12 177.5h3v11.4h-3zM816.25 188.9h3v1.5h-3z" fill="#ff0000"/>
<path d="M818.37 188.8h3v1.5h-3zM820.50 183.1h3v5.7h-3zM822.63 175.5h3v7.6h-3zM824.76 169.5h3v6.0h-3zM826.89 163.7h3v5.8h-3zM829.01 159.7h3v4.0h-3z" fill="#2f7a18"/>
<path d="M831.14 159.7h3v6.6h-3z" fill="#ff0000"/>
<path d="M833.27 143.1h3v23.2h-3zM835.40 138.3h3v4.8h-3zM837.53 119.8h3v18.4h-3zM839.65 112.3h3v7.5h-3z" fill="#2f7a18"/>
<path d="M841.78 112.3h3v5.0h-3z" fill="#ff0000"/>
<path d="M843.91 116.0h3v1.5h-3z" fill="#2f7a18"/>
<path d="M846.04 116.0h3v16.1h-3zM848.17 132.1h3v12.7h-3zM850.29 144.9h3v4.4h-3z" fill="#ff0000"/>
<path d="M852.42 135.9h3v13.4h-3z" fill="#2f7a18"/>
<path d="M854.55 135.9h3v6.1h-3z" fill="#ff0000"/>
<path d="M856.68 133.0h3v9.0h-3z" fill="#2f7a18"/>
<path d="M858.81 133.0h3v13.8h-3z" fill="#ff0000"/>
<path d="M860.93 143.0h3v3.8h-3zM863.06 135.9h3v7.1h-3z" fill="#2f7a18"/>
<path d="M865.19 135.9h3v7.7h-3z" fill="#ff0000"/>
<path d="M867.32 139.3h3v4.3h-3z" fill="#2f7a18"/>
<path d="M869.45 139.3h3v6.7h-3z" fill="#ff0000"/>
<path d="M871.57 142.0h3v4.0h-3z" fill="#2f7a18"/>
<path d="M873.70 142.0h3v1.5h-3z" fill="#ff0000"/>
<path d="M875.83 124.5h3v18.3h-3zM877.96 121.2h3v3.3h-3z" fill="#2f7a18"/>
<path d="M880.09 121.2h3v6.2h-3zM882.21 127.4h3v21.8h-3zM884.34 149.2h3v23.1h-3zM886.47 172.3h3v5.1h-3zM888.60 177.4h3v3.7h-3z" fill="#ff0000"/>
<path d="M890.73 174.2h3v7.0h-3z" fill="#2f7a18"/>
<path d="M892.85 174.2h3v14.7h-3z" fill="#ff0000"/>
<path d="M894.98 180.1h3v8.8h-3z" fill="#2f7a18"/>
<path d="M897.11 180.1h3v1.5h-3zM899.24 181.0h3v2.6h-3zM901.37 183.6h3v1.9h-3z" fill="#ff0000"/>
<path d="M903.49 173.4h3v12.0h-3zM905.62 160.0h3v13.3h-3zM907.75 159.6h3v1.5h-3zM909.88 151.8h3v7.8h-3z" fill="#2f7a18"/>
<path d="M912.01 151.8h3v12.7h-3z" fill="#ff0000"/>
<path d="M914.13 161.3h3v3.2h-3zM916.26 152.4h3v9.0h-3zM918.39 151.1h3v1.5h-3zM920.52 142.1h3v8.9h-3z" fill="#2f7a18"/>
<path d="M922.65 142.1h3v9.5h-3zM924.77 151.7h3v9.4h-3zM926.90 161.1h3v3.1h-3zM929.03 164.1h3v9.9h-3zM931.16 174.1h3v13.7h-3z" fill="#ff0000"/>
<path d="M933.29 186.0h3v1.7h-3zM935.41 167.3h3v18.7h-3z" fill="#2f7a18"/>
<path d="M937.54 167.3h3v6.0h-3z" fill="#ff0000"/>
<path d="M939.67 172.1h3v1.5h-3zM941.80 170.4h3v1.8h-3z" fill="#2f7a18"/>
<path d="M943.93 170.4h3v9.9h-3zM946.05 180.3h3v7.2h-3zM948.18 187.4h3v24.5h-3zM950.31 212.0h3v45.9h-3zM952.44 257.9h3v1.5h-3z" fill="#ff0000"/>
<path d="M954.57 240.0h3v18.1h-3z" fill="#2f7a18"/>
<polyline points="58.0,151.4 60.1,151.3 62.3,151.3 64.4,151.3 66.5,151.3 68.6,150.0 70.8,140.1 72.9,134.3 75.0,134.1 77.2,127.9 79.3,106.1 81.4,100.3 83.5,112.9 85.7,112.9 87.8,119.7 89.9,136.2 92.0,142.7 94.2,153.0 96.3,153.0 98.4,153.0 100.6,153.0 102.7,153.0 104.8,153.0 106.9,153.0 109.1,153.0 111.2,153.0 113.3,153.0 115.5,153.0 117.6,153.0 119.7,153.0 121.8,153.0 124.0,153.0 126.1,153.0 128.2,153.0 130.4,153.0 132.5,153.0 134.6,153.0 136.7,180.0 138.9,180.0 141.0,180.0 143.1,180.0 145.2,180.0 147.4,180.0 149.5,166.2 151.6,165.4 153.8,165.4 155.9,163.9 158.0,161.5 160.1,161.5 162.3,155.1 164.4,149.2 166.5,159.0 168.7,159.0 170.8,159.0 172.9,159.0 175.0,159.0 177.2,159.0 179.3,160.5 181.4,149.5 183.6,149.5 185.7,149.5 187.8,149.5 189.9,149.5 192.1,149.5 194.2,149.5 196.3,149.5 198.4,149.5 200.6,149.5 202.7,149.5 204.8,149.5 207.0,149.5 209.1,149.5 211.2,149.5 213.3,149.5 215.5,149.5 217.6,149.5 219.7,149.5 221.9,148.0 224.0,148.0 226.1,148.0 228.2,148.0 230.4,148.0 232.5,148.0 234.6,148.0 236.8,167.6 238.9,172.0 241.0,168.0 243.1,168.0 245.3,169.0 247.4,169.0 249.5,162.2 251.6,158.3 253.8,155.5 255.9,155.5 258.0,155.5 260.2,155.5 262.3,155.5 264.4,155.5 266.5,155.5 268.7,159.5 270.8,159.5 272.9,159.5 275.1,159.5 277.2,159.5 279.3,159.5 281.4,159.5 283.6,159.5 285.7,159.5 287.8,159.5 290.0,159.5 292.1,159.5 294.2,159.5 296.3,159.5 298.5,159.5 300.6,159.5 302.7,159.5 304.8,159.5 307.0,159.5 309.1,170.9 311.2,179.1 313.4,182.7 315.5,183.7 317.6,192.6 319.7,200.7 321.9,212.5 324.0,214.5 326.1,215.1 328.3,215.1 330.4,221.4 332.5,226.5 334.6,232.5 336.8,239.9 338.9,239.9 341.0,240.8 343.2,241.7 345.3,241.7 347.4,241.7 349.5,241.7 351.7,241.7 353.8,241.7 355.9,241.7 358.0,241.7 360.2,241.7 362.3,246.5 364.4,246.5 366.6,253.8 368.7,255.7 370.8,262.2 372.9,263.5 375.1,263.5 377.2,263.5 379.3,263.5 381.5,263.5 383.6,263.5 385.7,263.5 387.8,263.5 390.0,263.5 392.1,262.2 394.2,262.2 396.4,262.2 398.5,262.2 400.6,260.1 402.7,252.3 404.9,250.2 407.0,250.2 409.1,248.0 411.2,248.3 413.4,248.3 415.5,248.3 417.6,248.3 419.8,248.3 421.9,248.3 424.0,248.3 426.1,248.3 428.3,249.8 430.4,249.8 432.5,249.3 434.7,249.3 436.8,255.2 438.9,261.0 441.0,269.0 443.2,269.0 445.3,269.0 447.4,269.0 449.6,269.0 451.7,269.0 453.8,269.0 455.9,269.0 458.1,269.0 460.2,269.0 462.3,269.0 464.4,269.0 466.6,269.0 468.7,269.0 470.8,269.0 473.0,269.0 475.1,269.0 477.2,269.0 479.3,269.0 481.5,269.0 483.6,269.0 485.7,269.0 487.9,275.4 490.0,280.5 492.1,289.6 494.2,289.6 496.4,289.1 498.5,289.1 500.6,289.1 502.8,290.2 504.9,296.1 507.0,296.1 509.1,296.1 511.3,296.1 513.4,296.1 515.5,296.1 517.6,296.1 519.8,298.6 521.9,298.6 524.0,298.6 526.2,298.6 528.3,298.6 530.4,298.6 532.5,298.6 534.7,298.6 536.8,298.6 538.9,298.6 541.1,298.6 543.2,298.6 545.3,298.6 547.4,305.3 549.6,315.0 551.7,315.0 553.8,316.0 556.0,318.5 558.1,318.5 560.2,318.5 562.3,323.1 564.5,323.1 566.6,323.5 568.7,325.0 570.8,325.7 573.0,325.7 575.1,325.7 577.2,325.7 579.4,325.7 581.5,325.7 583.6,325.7 585.7,325.7 587.9,325.7 590.0,325.7 592.1,325.7 594.3,325.7 596.4,326.9 598.5,327.9 600.6,331.1 602.8,342.2 604.9,342.2 607.0,342.2 609.2,342.2 611.3,342.2 613.4,342.2 615.5,342.2 617.7,342.2 619.8,342.2 621.9,342.2 624.0,342.2 626.2,337.7 628.3,328.7 630.4,317.3 632.6,308.4 634.7,300.3 636.8,290.5 638.9,279.5 641.1,279.5 643.2,278.8 645.3,278.8 647.5,278.0 649.6,274.4 651.7,274.4 653.8,274.4 656.0,270.7 658.1,270.7 660.2,270.7 662.4,270.5 664.5,270.5 666.6,265.7 668.7,265.6 670.9,265.6 673.0,262.0 675.1,262.0 677.2,262.0 679.4,259.7 681.5,256.4 683.6,243.9 685.8,228.9 687.9,223.7 690.0,213.3 692.1,203.6 694.3,203.3 696.4,203.3 698.5,194.9 700.7,190.7 702.8,190.7 704.9,190.7 707.0,190.7 709.2,195.2 711.3,208.6 713.4,208.6 715.6,208.6 717.7,208.6 719.8,210.5 721.9,210.5 724.1,210.5 726.2,210.5 728.3,210.5 730.4,210.5 732.6,210.5 734.7,210.5 736.8,210.5 739.0,210.5 741.1,210.5 743.2,210.5 745.3,210.5 747.5,210.5 749.6,210.5 751.7,210.5 753.9,210.5 756.0,213.9 758.1,220.3 760.2,231.1 762.4,235.0 764.5,235.0 766.6,235.0 768.8,235.0 770.9,235.0 773.0,235.0 775.1,235.0 777.3,235.0 779.4,235.0 781.5,235.0 783.6,235.0 785.8,235.0 787.9,235.0 790.0,239.4 792.2,230.0 794.3,230.0 796.4,230.0 798.5,230.0 800.7,230.0 802.8,230.0 804.9,230.0 807.1,230.0 809.2,224.8 811.3,224.8 813.4,224.5 815.6,221.8 817.7,213.6 819.8,213.6 822.0,213.6 824.1,212.5 826.2,209.1 828.3,206.4 830.5,203.5 832.6,203.5 834.7,194.8 836.8,193.4 839.0,183.0 841.1,176.0 843.2,176.0 845.4,176.0 847.5,176.0 849.6,176.0 851.7,176.0 853.9,165.1 856.0,163.4 858.1,162.8 860.3,157.5 862.4,154.2 864.5,146.3 866.6,146.3 868.8,146.3 870.9,146.3 873.0,145.7 875.2,145.7 877.3,143.0 879.4,139.4 881.5,135.5 883.7,135.1 885.8,137.0 887.9,140.4 890.0,141.5 892.2,141.5 894.3,145.0 896.4,153.8 898.6,155.9 900.7,155.9 902.8,157.5 904.9,157.5 907.1,157.5 909.2,157.5 911.3,157.5 913.5,157.5 915.6,157.5 917.7,157.5 919.8,157.5 922.0,157.5 924.1,157.5 926.2,157.5 928.4,157.5 930.5,157.5 932.6,157.5 934.7,159.1 936.9,161.5 939.0,168.8 941.1,168.8 943.2,168.8 945.4,168.8 947.5,168.8 949.6,177.6 951.8,201.6 953.9,205.8 956.0,205.8" fill="none" stroke="#c98a8a" stroke-width="1"/>
<polyline points="58.0,151.4 60.1,151.3 62.3,151.3 64.4,151.3 66.5,151.3 68.6,150.0 70.8,140.1 72.9,134.3 75.0,134.1 77.2,126.6 79.3,104.8 81.4,98.9 83.5,112.9 85.7,112.9 87.8,119.7 89.9,136.2 92.0,142.7 94.2,153.0 96.3,153.0 98.4,153.0 100.6,189.0 102.7,190.8 104.8,191.8 106.9,225.5 109.1,227.7 111.2,223.0 113.3,206.7 115.5,199.2 117.6,194.4 119.7,188.6 121.8,173.8 124.0,161.5 126.1,155.1 128.2,149.2 130.4,141.7 132.5,139.2 134.6,136.6 136.7,136.6 138.9,136.6 141.0,136.6 143.1,138.1 145.2,140.8 147.4,141.9 149.5,143.6 151.6,143.6 153.8,141.0 155.9,145.5 158.0,148.4 160.1,153.4 162.3,154.9 164.4,170.2 166.5,180.9 168.7,183.9 170.8,186.6 172.9,189.9 175.0,189.9 177.2,193.2 179.3,193.5 181.4,149.5 183.6,149.5 185.7,148.0 187.8,148.0 189.9,148.0 192.1,148.0 194.2,148.0 196.3,148.0 198.4,148.0 200.6,167.6 202.7,172.0 204.8,165.0 207.0,165.0 209.1,172.7 211.2,172.7 213.3,172.7 215.5,181.7 217.6,181.7 219.7,181.7 221.9,181.7 224.0,177.0 226.1,160.3 228.2,157.9 230.4,156.8 232.5,161.6 234.6,169.0 236.8,169.0 238.9,169.0 241.0,169.0 243.1,169.0 245.3,177.5 247.4,182.4 249.5,162.2 251.6,158.3 253.8,154.4 255.9,148.1 258.0,141.8 260.2,140.4 262.3,139.3 264.4,138.6 266.5,135.8 268.7,159.5 270.8,159.5 272.9,170.9 275.1,179.1 277.2,182.7 279.3,183.5 281.4,185.0 283.6,186.3 285.7,193.3 287.8,189.9 290.0,190.0 292.1,190.0 294.2,190.4 296.3,191.2 298.5,191.2 300.6,191.2 302.7,191.2 304.8,192.2 307.0,193.0 309.1,193.0 311.2,193.0 313.4,193.0 315.5,197.4 317.6,204.8 319.7,211.5 321.9,216.3 324.0,216.3 326.1,221.6 328.3,221.6 330.4,235.3 332.5,242.4 334.6,254.7 336.8,269.1 338.9,275.2 341.0,278.0 343.2,278.0 345.3,279.9 347.4,279.9 349.5,286.5 351.7,285.1 353.8,285.1 355.9,283.9 358.0,280.3 360.2,276.6 362.3,273.3 364.4,268.7 366.6,260.5 368.7,258.5 370.8,258.4 372.9,248.0 375.1,248.0 377.2,248.0 379.3,248.0 381.5,248.0 383.6,248.0 385.7,248.0 387.8,248.0 390.0,248.0 392.1,249.3 394.2,249.3 396.4,246.7 398.5,246.7 400.6,242.4 402.7,244.5 404.9,245.8 407.0,248.5 409.1,248.5 411.2,249.8 413.4,249.8 415.5,254.7 417.6,261.6 419.8,262.6 421.9,260.8 424.0,260.8 426.1,260.8 428.3,260.8 430.4,257.8 432.5,246.3 434.7,243.9 436.8,255.2 438.9,261.0 441.0,269.0 443.2,269.0 445.3,269.0 447.4,269.0 449.6,269.0 451.7,275.4 453.8,280.5 455.9,289.6 458.1,289.6 460.2,289.1 462.3,289.1 464.4,289.1 466.6,280.5 468.7,281.0 470.8,282.1 473.0,283.9 475.1,289.4 477.2,290.7 479.3,290.7 481.5,290.7 483.6,293.2 485.7,297.7 487.9,298.0 490.0,301.9 492.1,301.2 494.2,298.5 496.4,297.9 498.5,296.0 500.6,294.6 502.8,294.6 504.9,303.9 507.0,298.6 509.1,298.6 511.3,298.6 513.4,298.6 515.5,298.6 517.6,298.6 519.8,298.6 521.9,298.6 524.0,298.4 526.2,301.1 528.3,301.1 530.4,301.5 532.5,304.6 534.7,304.0 536.8,304.0 538.9,304.0 541.1,303.0 543.2,303.0 545.3,302.0 547.4,311.8 549.6,321.5 551.7,321.5 553.8,322.5 556.0,325.0 558.1,325.0 560.2,326.2 562.3,327.2 564.5,330.4 566.6,350.9 568.7,351.6 570.8,352.3 573.0,352.3 575.1,352.3 577.2,352.3 579.4,352.6 581.5,351.6 583.6,348.5 585.7,344.9 587.9,344.9 590.0,340.3 592.1,340.3 594.3,340.3 596.4,340.3 598.5,340.1 600.6,340.1 602.8,337.5 604.9,337.5 607.0,337.5 609.2,337.5 611.3,337.5 613.4,335.1 615.5,335.1 617.7,335.1 619.8,335.1 621.9,338.7 624.0,341.5 626.2,339.8 628.3,326.2 630.4,314.8 632.6,305.8 634.7,297.8 636.8,284.4 638.9,273.5 641.1,273.4 643.2,270.5 645.3,267.1 647.5,253.8 649.6,237.6 651.7,232.4 653.8,222.0 656.0,208.6 658.1,206.8 660.2,206.8 662.4,206.7 664.5,205.8 666.6,197.2 668.7,196.5 670.9,195.1 673.0,192.9 675.1,191.5 677.2,191.5 679.4,191.5 681.5,191.5 683.6,191.7 685.8,192.6 687.9,196.7 690.0,202.7 692.1,206.3 694.3,208.7 696.4,204.4 698.5,194.9 700.7,190.7 702.8,190.7 704.9,190.7 707.0,190.7 709.2,195.2 711.3,208.6 713.4,208.6 715.6,208.6 717.7,208.6 719.8,213.9 721.9,220.3 724.1,228.1 726.2,242.4 728.3,249.3 730.4,250.5 732.6,241.5 734.7,232.0 736.8,232.0 739.0,231.3 741.1,231.3 743.2,231.3 745.3,230.2 747.5,224.0 749.6,223.7 751.7,228.5 753.9,233.5 756.0,233.8 758.1,239.7 760.2,245.7 762.4,252.1 764.5,255.5 766.6,255.4 768.8,253.4 770.9,253.4 773.0,248.2 775.1,246.1 777.3,242.4 779.4,239.8 781.5,231.5 783.6,231.5 785.8,231.5 787.9,231.5 790.0,224.8 792.2,212.4 794.3,211.7 796.4,211.7 798.5,219.0 800.7,219.0 802.8,219.0 804.9,219.0 807.1,219.0 809.2,213.8 811.3,213.8 813.4,213.5 815.6,212.6 817.7,201.7 819.8,200.0 822.0,199.4 824.1,192.9 826.2,187.3 828.3,176.7 830.5,173.8 832.6,173.8 834.7,165.1 836.8,163.1 839.0,152.7 841.1,143.0 843.2,139.4 845.4,135.5 847.5,135.1 849.6,135.1 851.7,133.6 853.9,131.5 856.0,131.5 858.1,131.5 860.3,138.3 862.4,140.4 864.5,140.4 866.6,147.7 868.8,148.1 870.9,148.1 873.0,148.1 875.2,148.1 877.3,145.3 879.4,134.4 881.5,134.4 883.7,135.8 885.8,145.5 887.9,148.9 890.0,150.0 892.2,150.0 894.3,153.5 896.4,157.5 898.6,159.1 900.7,161.5 902.8,170.1 904.9,183.7 907.1,175.6 909.2,171.5 911.3,171.5 913.5,171.5 915.6,168.4 917.7,168.4 919.8,168.4 922.0,166.7 924.1,158.1 926.2,154.6 928.4,154.6 930.5,158.7 932.6,164.2 934.7,168.8 936.9,168.8 939.0,168.8 941.1,168.8 943.2,171.2 945.4,177.5 947.5,180.6 949.6,190.1 951.8,214.1 953.9,218.2 956.0,218.7" fill="none" stroke="#64b5f6" stroke-width="1"/>
<polyline points="56.0,157.0 58.0,156.8 60.0,156.5 62.0,156.2 64.0,156.0 66.0,155.8 68.0,155.5 70.0,155.2 72.0,155.0 74.0,154.8 76.0,154.7 78.0,154.6 80.0,154.5 82.0,154.4 84.0,154.4 86.0,154.4 88.0,154.4 90.0,154.5 92.0,154.6 94.0,154.7 96.0,154.8 98.0,155.0 100.0,155.1 102.0,155.2 104.0,155.4 106.0,155.5 108.0,155.7 110.0,155.8 112.0,156.0 114.0,156.2 116.0,156.3 118.0,156.5 120.0,156.7 122.0,156.8 124.0,157.0 126.0,157.1 128.0,157.2 130.0,157.3 132.0,157.4 134.0,157.5 136.0,157.5 138.0,157.6 140.0,157.6 142.0,157.6 144.0,157.6 146.0,157.7 148.0,157.7 150.0,157.7 152.0,157.7 154.0,157.7 156.0,157.8 158.0,157.8 160.0,157.8 162.0,157.8 164.0,157.8 166.0,157.9 168.0,157.9 170.0,157.9 172.0,157.9 174.0,158.0 176.0,158.0 178.0,158.1 180.0,158.2 182.0,158.2 184.0,158.3 186.0,158.4 188.0,158.5 190.0,158.7 192.0,158.8 194.0,158.9 196.0,159.1 198.0,159.2 200.0,159.3 202.0,159.5 204.0,159.6 206.0,159.7 208.0,159.8 210.0,159.9 212.0,160.0 214.0,160.1 216.0,160.1 218.0,160.2 220.0,160.2 222.0,160.3 224.0,160.3 226.0,160.4 228.0,160.5 230.0,160.5 232.0,160.5 234.0,160.6 236.0,160.7 238.0,160.7 240.0,160.8 242.0,160.8 244.0,160.8 246.0,160.9 248.0,160.9 250.0,160.9 252.0,161.0 254.0,161.0 256.0,161.0 258.0,161.0 260.0,161.0 262.0,161.0 264.0,161.1 266.0,161.2 268.0,161.3 270.0,161.5 272.0,161.6 274.0,161.8 276.0,162.1 278.0,162.4 280.0,162.7 282.0,163.0 284.0,163.3 286.0,163.7 288.0,164.0 290.0,164.3 292.0,164.7 294.0,165.0 296.0,165.3 298.0,165.7 300.0,166.0 302.0,166.4 304.0,166.7 306.0,167.1 308.0,167.4 310.0,167.8 312.0,168.1 314.0,168.5 316.0,169.0 318.0,169.4 320.0,169.9 322.0,170.4 324.0,171.0 326.0,171.5 328.0,172.1 330.0,172.8 332.0,173.4 334.0,174.1 336.0,174.7 338.0,175.4 340.0,176.1 342.0,176.7 344.0,177.4 346.0,178.1 348.0,178.8 350.0,179.5 352.0,180.2 354.0,180.9 356.0,181.6 358.0,182.3 360.0,182.9 362.0,183.6 364.0,184.3 366.0,184.9 368.0,185.6 370.0,186.2 372.0,186.9 374.0,187.6 376.0,188.2 378.0,188.9 380.0,189.6 382.0,190.2 384.0,190.9 386.0,191.6 388.0,192.3 390.0,193.0 392.0,193.7 394.0,194.4 396.0,195.1 398.0,195.8 400.0,196.5 402.0,197.1 404.0,197.8 406.0,198.5 408.0,199.2 410.0,199.8 412.0,200.5 414.0,201.2 416.0,201.8 418.0,202.5 420.0,203.2 422.0,203.8 424.0,204.5 426.0,205.2 428.0,205.9 430.0,206.6 432.0,207.3 434.0,208.1 436.0,208.8 438.0,209.5 440.0,210.3 442.0,211.0 444.0,211.8 446.0,212.5 448.0,213.3 450.0,214.0 452.0,214.8 454.0,215.5 456.0,216.3 458.0,217.0 460.0,217.8 462.0,218.5 464.0,219.2 466.0,220.0 468.0,220.7 470.0,221.4 472.0,222.1 474.0,222.8 476.0,223.5 478.0,224.3 480.0,225.0 482.0,225.7 484.0,226.4 486.0,227.1 488.0,227.8 490.0,228.5 492.0,229.2 494.0,229.9 496.0,230.6 498.0,231.3 500.0,231.9 502.0,232.6 504.0,233.3 506.0,233.9 508.0,234.6 510.0,235.2 512.0,235.9 514.0,236.5 516.0,237.1 518.0,237.7 520.0,238.3 522.0,238.9 524.0,239.5 526.0,240.0 528.0,240.6 530.0,241.1 532.0,241.6 534.0,242.1 536.0,242.7 538.0,243.2 540.0,243.8 542.0,244.4 544.0,245.0 546.0,245.6 548.0,246.3 550.0,246.9 552.0,247.6 554.0,248.3 556.0,249.0 558.0,249.8 560.0,250.5 562.0,251.3 564.0,252.0 566.0,252.8 568.0,253.5 570.0,254.2 572.0,255.0 574.0,255.8 576.0,256.5 578.0,257.2 580.0,258.0 582.0,258.8 584.0,259.5 586.0,260.2 588.0,261.0 590.0,261.8 592.0,262.5 594.0,263.2 596.0,263.9 598.0,264.6 600.0,265.3 602.0,266.0 604.0,266.6 606.0,267.3 608.0,267.9 610.0,268.5 612.0,269.1 614.0,269.6 616.0,270.2 618.0,270.7 620.0,271.2 622.0,271.7 624.0,272.1 626.0,272.4 628.0,272.6 630.0,272.8 632.0,272.9 634.0,272.9 636.0,272.8 638.0,272.6 640.0,272.4 642.0,272.0 644.0,271.5 646.0,271.1 648.0,270.5 650.0,270.0 652.0,269.4 654.0,268.8 656.0,268.2 658.0,267.5 660.0,266.9 662.0,266.2 664.0,265.6 666.0,265.0 668.0,264.3 670.0,263.7 672.0,263.1 674.0,262.5 676.0,261.9 678.0,261.3 680.0,260.8 682.0,260.2 684.0,259.7 686.0,259.1 688.0,258.6 690.0,258.1 692.0,257.6 694.0,257.2 696.0,256.7 698.0,256.3 700.0,255.9 702.0,255.6 704.0,255.2 706.0,254.9 708.0,254.6 710.0,254.3 712.0,254.1 714.0,253.8 716.0,253.6 718.0,253.4 720.0,253.2 722.0,253.0 724.0,252.9 726.0,252.7 728.0,252.6 730.0,252.5 732.0,252.4 734.0,252.3 736.0,252.2 738.0,252.1 740.0,252.1 742.0,252.0 744.0,251.9 746.0,251.8 748.0,251.8 750.0,251.7 752.0,251.6 754.0,251.5 756.0,251.4 758.0,251.3 760.0,251.2 762.0,251.1 764.0,250.9 766.0,250.8 768.0,250.6 770.0,250.4 772.0,250.2 774.0,250.0 776.0,249.8 778.0,249.6 780.0,249.3 782.0,249.1 784.0,248.9 786.0,248.7 788.0,248.4 790.0,248.2 792.0,247.9 794.0,247.6 796.0,247.3 798.0,247.0 800.0,246.6 802.0,246.2 804.0,245.7 806.0,245.3 808.0,244.8 810.0,244.2 812.0,243.7 814.0,243.1 816.0,242.4 818.0,241.8 820.0,241.1 822.0,240.4 824.0,239.6 826.0,238.9 828.0,238.1 830.0,237.2 832.0,236.4 834.0,235.5 836.0,234.7 838.0,233.8 840.0,232.9 842.0,232.0 844.0,231.1 846.0,230.2 848.0,229.3 850.0,228.3 852.0,227.4 854.0,226.6 856.0,225.7 858.0,224.9 860.0,224.1 862.0,223.3 864.0,222.5 866.0,221.8 868.0,221.0 870.0,220.3 872.0,219.7 874.0,219.1 876.0,218.5 878.0,217.9 880.0,217.3 882.0,216.8 884.0,216.3 886.0,215.8 888.0,215.3 890.0,214.8 892.0,214.4 894.0,214.0 896.0,213.6 898.0,213.1 900.0,212.7 902.0,212.3 904.0,211.9 906.0,211.5 908.0,211.1 910.0,210.7 912.0,210.2 914.0,209.9 916.0,209.5 918.0,209.1 920.0,208.7 922.0,208.3 924.0,208.0 926.0,207.6 928.0,207.3 930.0,206.9 932.0,206.7 934.0,206.4 936.0,206.1 938.0,205.9 940.0,205.8 942.0,205.6 944.0,205.6 946.0,205.6 948.0,205.6 950.0,205.6 952.0,205.7 954.0,205.9 956.0,206.2 957.0,206.4" fill="none" stroke="#8e1b1b" stroke-width="2.2" stroke-linejoin="round"/>
<polyline points="56.0,75.0 58.0,75.9 60.0,76.8 62.0,77.7 64.0,78.6 66.0,79.5 68.0,80.4 70.0,81.3 72.0,82.2 74.0,83.1 76.0,84.0 78.0,85.0 80.0,85.9 82.0,86.9 84.0,87.9 86.0,88.9 88.0,89.9 90.0,90.9 92.0,92.0 94.0,93.0 96.0,94.1 98.0,95.2 100.0,96.3 102.0,97.4 104.0,98.5 106.0,99.6 108.0,100.6 110.0,101.6 112.0,102.6 114.0,103.6 116.0,104.6 118.0,105.5 120.0,106.4 122.0,107.3 124.0,108.1 126.0,108.8 128.0,109.5 130.0,110.2 132.0,110.8 134.0,111.4 136.0,112.0 138.0,112.5 140.0,113.0 142.0,113.4 144.0,113.8 146.0,114.2 148.0,114.6 150.0,115.0 152.0,115.5 154.0,115.9 156.0,116.4 158.0,117.0 160.0,117.5 162.0,118.1 164.0,118.7 166.0,119.3 168.0,120.0 170.0,120.6 172.0,121.3 174.0,122.0 176.0,122.8 178.0,123.5 180.0,124.2 182.0,125.0 184.0,125.7 186.0,126.4 188.0,127.2 190.0,127.9 192.0,128.7 194.0,129.5 196.0,130.2 198.0,131.0 200.0,131.8 202.0,132.5 204.0,133.3 206.0,134.1 208.0,134.9 210.0,135.7 212.0,136.6 214.0,137.4 216.0,138.3 218.0,139.2 220.0,140.1 222.0,141.1 224.0,142.0 226.0,143.0 228.0,144.0 230.0,145.0 232.0,146.0 234.0,147.0 236.0,147.9 238.0,148.9 240.0,149.9 242.0,150.8 244.0,151.7 246.0,152.7 248.0,153.6 250.0,154.5 252.0,155.5 254.0,156.4 256.0,157.2 258.0,158.1 260.0,159.0 262.0,159.9 264.0,160.8 266.0,161.7 268.0,162.5 270.0,163.4 272.0,164.3 274.0,165.1 276.0,166.0 278.0,166.9 280.0,167.7 282.0,168.6 284.0,169.4 286.0,170.3 288.0,171.1 290.0,172.0 292.0,172.8 294.0,173.6 296.0,174.5 298.0,175.3 300.0,176.2 302.0,177.0 304.0,177.8 306.0,178.7 308.0,179.5 310.0,180.3 312.0,181.1 314.0,181.8 316.0,182.6 318.0,183.3 320.0,184.0 322.0,184.6 324.0,185.2 326.0,185.8 328.0,186.4 330.0,187.0 332.0,187.5 334.0,187.9 336.0,188.4 338.0,188.8 340.0,189.3 342.0,189.7 344.0,190.1 346.0,190.5 348.0,190.9 350.0,191.2 352.0,191.5 354.0,191.8 356.0,192.1 358.0,192.4 360.0,192.6 362.0,192.9 364.0,193.1 366.0,193.3 368.0,193.4 370.0,193.6 372.0,193.7 374.0,193.8 376.0,194.0 378.0,194.1 380.0,194.2 382.0,194.3 384.0,194.4 386.0,194.5 388.0,194.6 390.0,194.7 392.0,194.8 394.0,194.9 396.0,194.9 398.0,195.0 400.0,195.1 402.0,195.2 404.0,195.2 406.0,195.3 408.0,195.3 410.0,195.3 412.0,195.4 414.0,195.4 416.0,195.4 418.0,195.4 420.0,195.4 422.0,195.4 424.0,195.4 426.0,195.4 428.0,195.5 430.0,195.6 432.0,195.7 434.0,195.8 436.0,196.0 438.0,196.1 440.0,196.4 442.0,196.6 444.0,196.9 446.0,197.3 448.0,197.7 450.0,198.1 452.0,198.6 454.0,199.1 456.0,199.6 458.0,200.2 460.0,200.7 462.0,201.3 464.0,201.9 466.0,202.6 468.0,203.2 470.0,203.9 472.0,204.5 474.0,205.2 476.0,205.9 478.0,206.6 480.0,207.3 482.0,208.0 484.0,208.7 486.0,209.4 488.0,210.1 490.0,210.8 492.0,211.5 494.0,212.3 496.0,213.0 498.0,213.7 500.0,214.5 502.0,215.2 504.0,216.0 506.0,216.7 508.0,217.4 510.0,218.1 512.0,218.9 514.0,219.6 516.0,220.3 518.0,221.0 520.0,221.6 522.0,222.3 524.0,222.9 526.0,223.6 528.0,224.2 530.0,224.8 532.0,225.4 534.0,226.0 536.0,226.6 538.0,227.2 540.0,227.8 542.0,228.5 544.0,229.1 546.0,229.8 548.0,230.5 550.0,231.2 552.0,231.9 554.0,232.7 556.0,233.5 558.0,234.3 560.0,235.2 562.0,236.0 564.0,236.9 566.0,237.7 568.0,238.6 570.0,239.5 572.0,240.4 574.0,241.2 576.0,242.0 578.0,242.9 580.0,243.7 582.0,244.5 584.0,245.2 586.0,246.0 588.0,246.8 590.0,247.5 592.0,248.2 594.0,248.9 596.0,249.6 598.0,250.4 600.0,251.1 602.0,251.8 604.0,252.5 606.0,253.3 608.0,254.0 610.0,254.7 612.0,255.5 614.0,256.2 616.0,256.8 618.0,257.5 620.0,258.2 622.0,258.8 624.0,259.4 626.0,260.1 628.0,260.7 630.0,261.2 632.0,261.7 634.0,262.2 636.0,262.6 638.0,263.0 640.0,263.4 642.0,263.7 644.0,264.0 646.0,264.3 648.0,264.6 650.0,264.8 652.0,265.0 654.0,265.2 656.0,265.3 658.0,265.5 660.0,265.7 662.0,265.9 664.0,266.1 666.0,266.4 668.0,266.6 670.0,266.8 672.0,267.0 674.0,267.3 676.0,267.5 678.0,267.8 680.0,268.0 682.0,268.3 684.0,268.5 686.0,268.8 688.0,269.0 690.0,269.2 692.0,269.5 694.0,269.7 696.0,269.9 698.0,270.1 700.0,270.3 702.0,270.5 704.0,270.7 706.0,270.9 708.0,271.1 710.0,271.2 712.0,271.4 714.0,271.5 716.0,271.7 718.0,271.8 720.0,271.9 722.0,272.0 724.0,272.2 726.0,272.3 728.0,272.4 730.0,272.5 732.0,272.6 734.0,272.7 736.0,272.7 738.0,272.8 740.0,272.8 742.0,272.9 744.0,272.9 746.0,273.0 748.0,273.0 750.0,273.0 752.0,273.0 754.0,272.9 756.0,272.8 758.0,272.8 760.0,272.7 762.0,272.6 764.0,272.4 766.0,272.3 768.0,272.2 770.0,272.0 772.0,271.8 774.0,271.6 776.0,271.4 778.0,271.2 780.0,271.0 782.0,270.8 784.0,270.6 786.0,270.4 788.0,270.2 790.0,270.0 792.0,269.8 794.0,269.5 796.0,269.3 798.0,269.0 800.0,268.8 802.0,268.5 804.0,268.2 806.0,267.9 808.0,267.6 810.0,267.3 812.0,266.9 814.0,266.6 816.0,266.2 818.0,265.8 820.0,265.4 822.0,265.0 824.0,264.6 826.0,264.2 828.0,263.7 830.0,263.3 832.0,262.8 834.0,262.3 836.0,261.9 838.0,261.4 840.0,260.9 842.0,260.4 844.0,259.9 846.0,259.4 848.0,258.9 850.0,258.4 852.0,257.8 854.0,257.3 856.0,256.7 858.0,256.2 860.0,255.6 862.0,255.0 864.0,254.5 866.0,253.9 868.0,253.3 870.0,252.7 872.0,252.1 874.0,251.5 876.0,250.9 878.0,250.3 880.0,249.7 882.0,249.2 884.0,248.6 886.0,248.0 888.0,247.4 890.0,246.8 892.0,246.2 894.0,245.6 896.0,245.0 898.0,244.4 900.0,243.8 902.0,243.1 904.0,242.5 906.0,241.8 908.0,241.2 910.0,240.5 912.0,239.8 914.0,239.1 916.0,238.5 918.0,237.8 920.0,237.2 922.0,236.5 924.0,235.9 926.0,235.2 928.0,234.6 930.0,234.0 932.0,233.5 934.0,232.9 936.0,232.4 938.0,232.0 940.0,231.5 942.0,231.1 944.0,230.7 946.0,230.3 948.0,229.9 950.0,229.6 952.0,229.3 954.0,229.1 956.0,228.8 957.0,228.6" fill="none" stroke="#43a047" stroke-width="3.4" stroke-linejoin="round"/>
<polyline points="56.0,188.5 58.0,187.4 60.0,186.3 62.0,185.1 64.0,183.8 66.0,182.4 68.0,180.9 70.0,179.2 72.0,177.6 74.0,176.0 76.0,174.5 78.0,173.1 80.0,171.8 82.0,170.7 84.0,170.0 86.0,169.6 88.0,169.8 90.0,170.5 92.0,171.6 94.0,172.8 96.0,174.2 98.0,175.5 100.0,176.8 102.0,177.9 104.0,179.0 106.0,180.0 108.0,180.8 110.0,181.3 112.0,181.6 114.0,181.6 116.0,181.4 118.0,181.0 120.0,180.4 122.0,179.6 124.0,178.6 126.0,177.4 128.0,176.1 130.0,174.8 132.0,173.3 134.0,171.8 136.0,170.2 138.0,168.7 140.0,167.4 142.0,166.1 144.0,165.0 146.0,164.0 148.0,163.2 150.0,162.5 152.0,162.0 154.0,161.6 156.0,161.4 158.0,161.3 160.0,161.4 162.0,161.7 164.0,162.0 166.0,162.6 168.0,163.1 170.0,163.6 172.0,164.0 174.0,164.5 176.0,165.0 178.0,165.4 180.0,165.9 182.0,166.3 184.0,166.6 186.0,166.8 188.0,167.0 190.0,167.0 192.0,167.0 194.0,167.0 196.0,167.0 198.0,167.0 200.0,167.1 202.0,167.2 204.0,167.3 206.0,167.5 208.0,167.6 210.0,167.8 212.0,168.0 214.0,168.1 216.0,168.3 218.0,168.5 220.0,168.6 222.0,168.9 224.0,169.1 226.0,169.3 228.0,169.6 230.0,169.8 232.0,170.0 234.0,170.3 236.0,170.5 238.0,170.6 240.0,170.4 242.0,170.0 244.0,169.4 246.0,168.6 248.0,167.8 250.0,166.9 252.0,166.0 254.0,165.0 256.0,164.2 258.0,163.5 260.0,163.0 262.0,162.7 264.0,162.5 266.0,162.3 268.0,162.3 270.0,162.6 272.0,162.9 274.0,163.5 276.0,164.2 278.0,165.0 280.0,165.8 282.0,166.5 284.0,167.2 286.0,168.0 288.0,168.8 290.0,169.6 292.0,170.4 294.0,171.2 296.0,172.1 298.0,172.9 300.0,173.8 302.0,174.6 304.0,175.4 306.0,176.3 308.0,177.2 310.0,178.3 312.0,179.4 314.0,180.6 316.0,181.9 318.0,183.4 320.0,185.1 322.0,186.9 324.0,189.0 326.0,191.2 328.0,193.5 330.0,196.0 332.0,198.4 334.0,201.0 336.0,203.7 338.0,206.3 340.0,209.0 342.0,211.6 344.0,214.2 346.0,216.8 348.0,219.2 350.0,221.3 352.0,223.2 354.0,224.8 356.0,226.2 358.0,227.4 360.0,228.5 362.0,229.4 364.0,230.2 366.0,230.8 368.0,231.4 370.0,232.0 372.0,232.6 374.0,233.2 376.0,233.7 378.0,234.2 380.0,234.8 382.0,235.2 384.0,235.8 386.0,236.2 388.0,236.8 390.0,237.2 392.0,237.7 394.0,238.2 396.0,238.7 398.0,239.2 400.0,239.7 402.0,240.1 404.0,240.6 406.0,241.1 408.0,241.5 410.0,241.8 412.0,242.1 414.0,242.3 416.0,242.4 418.0,242.6 420.0,242.8 422.0,242.9 424.0,243.1 426.0,243.2 428.0,243.4 430.0,243.7 432.0,244.1 434.0,244.5 436.0,245.0 438.0,245.6 440.0,246.4 442.0,247.3 444.0,248.4 446.0,249.6 448.0,250.8 450.0,251.9 452.0,253.0 454.0,254.1 456.0,255.2 458.0,256.3 460.0,257.3 462.0,258.4 464.0,259.5 466.0,260.6 468.0,261.7 470.0,262.8 472.0,264.0 474.0,265.1 476.0,266.2 478.0,267.3 480.0,268.4 482.0,269.5 484.0,270.5 486.0,271.5 488.0,272.5 490.0,273.5 492.0,274.5 494.0,275.5 496.0,276.5 498.0,277.4 500.0,278.3 502.0,279.0 504.0,279.7 506.0,280.4 508.0,281.0 510.0,281.6 512.0,282.2 514.0,282.8 516.0,283.5 518.0,284.0 520.0,284.5 522.0,284.9 524.0,285.3 526.0,285.6 528.0,285.9 530.0,286.2 532.0,286.5 534.0,286.8 536.0,287.1 538.0,287.4 540.0,287.7 542.0,288.1 544.0,288.8 546.0,289.8 548.0,291.1 550.0,292.7 552.0,294.4 554.0,296.3 556.0,298.1 558.0,300.0 560.0,302.0 562.0,303.9 564.0,305.8 566.0,307.6 568.0,309.2 570.0,310.8 572.0,312.1 574.0,313.3 576.0,314.3 578.0,315.1 580.0,315.7 582.0,316.1 584.0,316.6 586.0,317.1 588.0,317.6 590.0,318.2 592.0,318.9 594.0,319.6 596.0,320.4 598.0,321.2 600.0,322.0 602.0,322.7 604.0,323.5 606.0,324.2 608.0,324.9 610.0,325.5 612.0,326.0 614.0,326.5 616.0,326.9 618.0,327.2 620.0,327.3 622.0,327.4 624.0,327.1 626.0,326.4 628.0,325.4 630.0,324.0 632.0,322.2 634.0,320.2 636.0,318.0 638.0,315.7 640.0,313.2 642.0,310.7 644.0,308.1 646.0,305.3 648.0,302.4 650.0,299.5 652.0,296.2 654.0,292.5 656.0,288.2 658.0,283.9 660.0,279.6 662.0,275.5 664.0,272.0 666.0,269.0 668.0,266.2 670.0,263.7 672.0,261.4 674.0,259.4 676.0,257.6 678.0,256.0 680.0,254.5 682.0,253.3 684.0,252.2 686.0,251.2 688.0,250.1 690.0,248.8 692.0,247.2 694.0,245.4 696.0,243.5 698.0,241.6 700.0,239.9 702.0,238.4 704.0,237.0 706.0,236.1 708.0,235.5 710.0,235.2 712.0,235.2 714.0,235.6 716.0,236.0 718.0,236.4 720.0,236.8 722.0,237.3 724.0,237.6 726.0,237.8 728.0,238.0 730.0,238.0 732.0,238.0 734.0,237.8 736.0,237.6 738.0,237.3 740.0,236.8 742.0,236.5 744.0,236.4 746.0,236.6 748.0,237.0 750.0,237.6 752.0,238.3 754.0,239.0 756.0,239.6 758.0,240.2 760.0,240.8 762.0,241.2 764.0,241.3 766.0,241.3 768.0,241.2 770.0,240.8 772.0,240.3 774.0,239.8 776.0,239.4 778.0,239.1 780.0,238.8 782.0,238.4 784.0,238.0 786.0,237.5 788.0,236.9 790.0,236.2 792.0,235.6 794.0,235.1 796.0,234.6 798.0,234.0 800.0,233.4 802.0,232.6 804.0,231.5 806.0,230.3 808.0,229.0 810.0,227.6 812.0,226.1 814.0,224.5 816.0,222.9 818.0,221.2 820.0,219.6 822.0,217.9 824.0,216.2 826.0,214.4 828.0,212.5 830.0,210.4 832.0,208.2 834.0,205.7 836.0,203.0 838.0,200.5 840.0,198.1 842.0,195.9 844.0,193.8 846.0,191.9 848.0,190.0 850.0,188.3 852.0,186.7 854.0,185.2 856.0,183.8 858.0,182.5 860.0,181.2 862.0,180.0 864.0,178.9 866.0,177.9 868.0,176.8 870.0,175.7 872.0,174.6 874.0,173.4 876.0,172.2 878.0,171.2 880.0,170.5 882.0,170.1 884.0,169.9 886.0,169.9 888.0,170.1 890.0,170.3 892.0,170.6 894.0,171.0 896.0,171.5 898.0,171.8 900.0,171.9 902.0,171.8 904.0,171.5 906.0,171.0 908.0,170.6 910.0,170.2 912.0,169.9 914.0,169.6 916.0,169.4 918.0,169.2 920.0,169.1 922.0,169.0 924.0,169.0 926.0,169.0 928.0,169.0 930.0,168.9 932.0,168.8 934.0,168.6 936.0,168.4 938.0,168.4 940.0,168.7 942.0,169.2 944.0,169.8 946.0,170.9 948.0,172.1 950.0,173.5 952.0,175.2 954.0,176.8 956.0,178.6 957.0,180.0" fill="none" stroke="#ff9800" stroke-width="3" stroke-linejoin="round"/>
<polyline points="56.0,177.0 58.0,174.8 60.0,172.6 62.0,170.3 64.0,168.1 66.0,165.8 68.0,163.4 70.0,161.0 72.0,158.6 74.0,156.3 76.0,154.1 78.0,152.0 80.0,150.0 82.0,148.0 84.0,146.4 86.0,145.8 88.0,146.0 90.0,146.7 92.0,148.4 94.0,151.0 96.0,154.7 98.0,158.3 100.0,161.7 102.0,164.8 104.0,167.6 106.0,170.4 108.0,173.2 110.0,175.5 112.0,177.2 114.0,178.4 116.0,179.6 118.0,180.8 120.0,181.7 122.0,182.4 124.0,182.8 126.0,183.1 128.0,182.8 130.0,181.6 132.0,179.8 134.0,177.4 136.0,174.1 138.0,169.7 140.0,164.9 142.0,160.4 144.0,156.2 146.0,152.5 148.0,148.8 150.0,145.9 152.0,143.9 154.0,142.7 156.0,141.9 158.0,141.9 160.0,142.5 162.0,143.5 164.0,144.8 166.0,146.7 168.0,149.3 170.0,152.1 172.0,154.5 174.0,156.5 176.0,158.0 178.0,159.5 180.0,159.9 182.0,159.3 184.0,157.6 186.0,155.6 188.0,153.3 190.0,150.4 192.0,149.1 194.0,149.4 196.0,151.7 198.0,154.5 200.0,157.9 202.0,161.5 204.0,164.8 206.0,167.5 208.0,169.4 210.0,171.0 212.0,172.6 214.0,173.8 216.0,174.3 218.0,174.1 220.0,173.5 222.0,172.9 224.0,172.5 226.0,172.5 228.0,172.9 230.0,173.5 232.0,174.1 234.0,174.5 236.0,174.5 238.0,174.1 240.0,173.5 242.0,172.9 244.0,172.1 246.0,170.8 248.0,169.0 250.0,167.3 252.0,165.8 254.0,164.7 256.0,163.5 258.0,162.3 260.0,161.2 262.0,160.3 264.0,159.8 266.0,159.5 268.0,159.2 270.0,159.5 272.0,160.1 274.0,161.2 276.0,162.4 278.0,163.5 280.0,164.8 282.0,166.3 284.0,168.0 286.0,169.6 288.0,171.3 290.0,173.2 292.0,175.3 294.0,177.6 296.0,179.9 298.0,182.2 300.0,184.6 302.0,187.0 304.0,189.5 306.0,192.0 308.0,194.5 310.0,197.3 312.0,200.3 314.0,203.7 316.0,206.9 318.0,209.9 320.0,212.8 322.0,215.7 324.0,218.6 326.0,221.5 328.0,224.5 330.0,227.5 332.0,230.5 334.0,233.5 336.0,236.5 338.0,239.5 340.0,242.5 342.0,245.5 344.0,248.4 346.0,251.1 348.0,253.6 350.0,256.0 352.0,258.4 354.0,260.6 356.0,262.6 358.0,264.1 360.0,265.6 362.0,266.6 364.0,267.2 366.0,267.4 368.0,267.6 370.0,267.8 372.0,267.7 374.0,267.2 376.0,266.5 378.0,265.8 380.0,264.7 382.0,263.4 384.0,261.8 386.0,260.2 388.0,258.6 390.0,257.1 392.0,255.8 394.0,254.6 396.0,253.4 398.0,252.2 400.0,251.5 402.0,251.2 404.0,251.4 406.0,251.6 408.0,251.8 410.0,252.0 412.0,252.3 414.0,252.6 416.0,252.9 418.0,253.2 420.0,253.4 422.0,253.4 424.0,253.2 426.0,253.1 428.0,252.9 430.0,252.7 432.0,252.4 434.0,252.4 436.0,253.0 438.0,254.1 440.0,255.6 442.0,256.9 444.0,258.2 446.0,259.5 448.0,260.8 450.0,261.9 452.0,263.0 454.0,264.0 456.0,265.0 458.0,266.0 460.0,267.3 462.0,269.0 464.0,271.0 466.0,273.0 468.0,275.0 470.0,277.1 472.0,279.2 474.0,281.4 476.0,283.6 478.0,285.8 480.0,287.5 482.0,288.8 484.0,289.6 486.0,290.4 488.0,291.2 490.0,291.9 492.0,292.5 494.0,293.0 496.0,293.6 498.0,294.1 500.0,294.7 502.0,295.3 504.0,296.0 506.0,296.6 508.0,297.3 510.0,297.8 512.0,298.2 514.0,298.4 516.0,298.6 518.0,298.9 520.0,299.1 522.0,299.3 524.0,299.5 526.0,299.6 528.0,299.6 530.0,299.6 532.0,299.6 534.0,299.6 536.0,299.6 538.0,299.6 540.0,299.8 542.0,300.2 544.0,300.8 546.0,301.4 548.0,302.5 550.0,304.1 552.0,306.3 554.0,308.4 556.0,310.5 558.0,312.5 560.0,314.5 562.0,316.5 564.0,318.5 566.0,320.5 568.0,322.5 570.0,324.5 572.0,326.5 574.0,328.6 576.0,331.0 578.0,333.6 580.0,336.3 582.0,338.6 584.0,340.7 586.0,342.3 588.0,344.0 590.0,345.1 592.0,345.6 594.0,345.6 596.0,345.5 598.0,345.2 600.0,344.6 602.0,344.0 604.0,343.4 606.0,342.8 608.0,342.3 610.0,341.8 612.0,341.3 614.0,340.8 616.0,340.2 618.0,339.5 620.0,338.8 622.0,338.1 624.0,337.1 626.0,335.7 628.0,333.8 630.0,331.6 632.0,328.8 634.0,325.3 636.0,321.2 638.0,316.7 640.0,312.0 642.0,307.1 644.0,302.0 646.0,296.6 648.0,291.1 650.0,285.4 652.0,279.2 654.0,272.6 656.0,265.7 658.0,258.8 660.0,251.9 662.0,245.0 664.0,238.3 666.0,232.3 668.0,227.0 670.0,222.5 672.0,218.5 674.0,214.9 676.0,211.7 678.0,209.3 680.0,207.5 682.0,206.1 684.0,204.9 686.0,204.0 688.0,203.4 690.0,203.0 692.0,202.6 694.0,202.0 696.0,201.1 698.0,199.8 700.0,198.7 702.0,197.7 704.0,197.5 706.0,198.2 708.0,199.9 710.0,202.3 712.0,205.0 714.0,207.9 716.0,210.5 718.0,212.8 720.0,214.9 722.0,216.8 724.0,218.5 726.0,220.0 728.0,221.5 730.0,222.6 732.0,223.3 734.0,223.6 736.0,224.0 738.0,224.8 740.0,225.8 742.0,227.4 744.0,229.5 746.0,232.0 748.0,234.4 750.0,236.6 752.0,238.8 754.0,240.7 756.0,242.0 758.0,242.9 760.0,243.4 762.0,243.7 764.0,243.8 766.0,243.5 768.0,243.2 770.0,242.8 772.0,242.0 774.0,241.0 776.0,240.2 778.0,239.9 780.0,240.0 782.0,240.2 784.0,240.3 786.0,239.9 788.0,239.1 790.0,238.1 792.0,236.8 794.0,235.2 796.0,233.5 798.0,231.8 800.0,229.7 802.0,227.4 804.0,224.8 806.0,222.2 808.0,219.6 810.0,217.1 812.0,214.8 814.0,212.6 816.0,210.4 818.0,208.2 820.0,205.6 822.0,202.7 824.0,199.4 826.0,196.1 828.0,192.8 830.0,189.5 832.0,186.2 834.0,182.9 836.0,179.6 838.0,176.3 840.0,173.2 842.0,170.2 844.0,167.4 846.0,164.6 848.0,161.8 850.0,159.3 852.0,157.2 854.0,155.4 856.0,153.6 858.0,151.8 860.0,150.1 862.0,148.6 864.0,147.2 866.0,145.8 868.0,144.4 870.0,143.1 872.0,141.9 874.0,140.8 876.0,139.7 878.0,138.6 880.0,138.4 882.0,139.1 884.0,141.0 886.0,143.1 888.0,145.7 890.0,148.1 892.0,150.3 894.0,152.2 896.0,153.9 898.0,155.4 900.0,156.5 902.0,157.5 904.0,158.5 906.0,159.4 908.0,160.3 910.0,161.2 912.0,162.2 914.0,163.0 916.0,163.8 918.0,164.5 920.0,165.2 922.0,166.0 924.0,166.5 926.0,166.9 928.0,167.0 930.0,167.0 932.0,167.0 934.0,167.0 936.0,166.8 938.0,166.6 940.0,166.3 942.0,166.5 944.0,167.3 946.0,168.7 948.0,170.5 950.0,172.8 952.0,175.6 954.0,178.4 956.0,180.7 957.0,182.6" fill="none" stroke="#1fb8d3" stroke-width="2.2" stroke-linejoin="round"/>
<line x1="290" y1="24.4" x2="941" y2="228" stroke="#2490ee" stroke-width="2"/>
<line x1="258" y1="104" x2="575.8" y2="316" stroke="#2490ee" stroke-width="2"/>
</g>
<rect x="56.0" y="470" width="3.0" height="125.5" fill="#ff2020"/>
<rect x="59.0" y="470" width="2.0" height="125.5" fill="#1f8b1f"/>
<rect x="61.0" y="470" width="1.2" height="125.5" fill="#ff2020"/>
<rect x="62.2" y="470" width="2.8" height="125.5" fill="#ffff20"/>
<rect x="65.0" y="470" width="4.3" height="125.5" fill="#ff2020"/>
<rect x="69.3" y="470" width="10.7" height="125.5" fill="#1f8b1f"/>
<rect x="80.0" y="470" width="1.4" height="125.5" fill="#ff2020"/>
<rect x="81.4" y="470" width="22.5" height="125.5" fill="#ffff20"/>
<rect x="103.9" y="470" width="10.4" height="125.5" fill="#2222ff"/>
<rect x="114.3" y="470" width="14.6" height="125.5" fill="#1f8b1f"/>
<rect x="128.9" y="470" width="2.2" height="125.5" fill="#ffff20"/>
<rect x="131.1" y="470" width="10.3" height="125.5" fill="#2222ff"/>
<rect x="141.4" y="470" width="2.4" height="125.5" fill="#ffff20"/>
<rect x="143.8" y="470" width="8.3" height="125.5" fill="#ff2020"/>
<rect x="152.1" y="470" width="2.7" height="125.5" fill="#ffff20"/>
<rect x="154.8" y="470" width="1.5" height="125.5" fill="#2222ff"/>
<rect x="156.3" y="470" width="2.5" height="125.5" fill="#ffff20"/>
<rect x="158.8" y="470" width="10.8" height="125.5" fill="#ff2020"/>
<rect x="169.6" y="470" width="1.7" height="125.5" fill="#ffff20"/>
<rect x="171.3" y="470" width="2.6" height="125.5" fill="#ff2020"/>
<rect x="173.9" y="470" width="1.9" height="125.5" fill="#1f8b1f"/>
<rect x="175.8" y="470" width="4.4" height="125.5" fill="#2222ff"/>
<rect x="180.2" y="470" width="1.7" height="125.5" fill="#1f8b1f"/>
<rect x="181.9" y="470" width="7.3" height="125.5" fill="#ffff20"/>
<rect x="189.2" y="470" width="5.8" height="125.5" fill="#2222ff"/>
<rect x="195.0" y="470" width="9.0" height="125.5" fill="#ffff20"/>
<rect x="204.0" y="470" width="11.6" height="125.5" fill="#2222ff"/>
<rect x="215.6" y="470" width="5.0" height="125.5" fill="#1f8b1f"/>
<rect x="220.6" y="470" width="1.6" height="125.5" fill="#ffff20"/>
<rect x="222.2" y="470" width="4.2" height="125.5" fill="#1f8b1f"/>
<rect x="226.4" y="470" width="7.5" height="125.5" fill="#ffff20"/>
<rect x="233.9" y="470" width="3.1" height="125.5" fill="#ff2020"/>
<rect x="237.0" y="470" width="4.4" height="125.5" fill="#2222ff"/>
<rect x="241.4" y="470" width="13.5" height="125.5" fill="#1f8b1f"/>
<rect x="254.9" y="470" width="1.9" height="125.5" fill="#2222ff"/>
<rect x="256.8" y="470" width="8.5" height="125.5" fill="#ffff20"/>
<rect x="265.3" y="470" width="14.8" height="125.5" fill="#ff2020"/>
<rect x="280.1" y="470" width="6.0" height="125.5" fill="#2222ff"/>
<rect x="286.1" y="470" width="2.9" height="125.5" fill="#ffff20"/>
<rect x="289.0" y="470" width="4.3" height="125.5" fill="#ff2020"/>
<rect x="293.3" y="470" width="1.8" height="125.5" fill="#2222ff"/>
<rect x="295.1" y="470" width="4.5" height="125.5" fill="#ff2020"/>
<rect x="299.6" y="470" width="1.7" height="125.5" fill="#1f8b1f"/>
<rect x="301.3" y="470" width="6.6" height="125.5" fill="#2222ff"/>
<rect x="307.9" y="470" width="4.2" height="125.5" fill="#ffff20"/>
<rect x="312.1" y="470" width="2.4" height="125.5" fill="#2222ff"/>
<rect x="314.5" y="470" width="15.0" height="125.5" fill="#ff2020"/>
<rect x="329.5" y="470" width="1.5" height="125.5" fill="#1f8b1f"/>
<rect x="331.0" y="470" width="4.6" height="125.5" fill="#ff2020"/>
<rect x="335.6" y="470" width="2.5" height="125.5" fill="#2222ff"/>
<rect x="338.1" y="470" width="3.8" height="125.5" fill="#ffff20"/>
<rect x="341.9" y="470" width="28.0" height="125.5" fill="#2222ff"/>
<rect x="369.9" y="470" width="5.7" height="125.5" fill="#1f8b1f"/>
<rect x="375.6" y="470" width="7.4" height="125.5" fill="#ffff20"/>
<rect x="383.0" y="470" width="3.8" height="125.5" fill="#2222ff"/>
<rect x="386.8" y="470" width="2.1" height="125.5" fill="#1f8b1f"/>
<rect x="388.9" y="470" width="5.0" height="125.5" fill="#ffff20"/>
<rect x="393.9" y="470" width="5.7" height="125.5" fill="#1f8b1f"/>
<rect x="399.6" y="470" width="10.9" height="125.5" fill="#ffff20"/>
<rect x="410.5" y="470" width="5.9" height="125.5" fill="#2222ff"/>
<rect x="416.4" y="470" width="4.5" height="125.5" fill="#1f8b1f"/>
<rect x="420.9" y="470" width="2.4" height="125.5" fill="#ff2020"/>
<rect x="423.3" y="470" width="1.8" height="125.5" fill="#2222ff"/>
<rect x="425.1" y="470" width="4.5" height="125.5" fill="#1f8b1f"/>
<rect x="429.6" y="470" width="1.7" height="125.5" fill="#ffff20"/>
<rect x="431.3" y="470" width="2.5" height="125.5" fill="#1f8b1f"/>
<rect x="433.8" y="470" width="2.3" height="125.5" fill="#ffff20"/>
<rect x="436.1" y="470" width="10.2" height="125.5" fill="#ff2020"/>
<rect x="446.3" y="470" width="2.5" height="125.5" fill="#2222ff"/>
<rect x="448.8" y="470" width="6.2" height="125.5" fill="#ffff20"/>
<rect x="455.0" y="470" width="10.4" height="125.5" fill="#2222ff"/>
<rect x="465.4" y="470" width="2.9" height="125.5" fill="#ffff20"/>
<rect x="468.3" y="470" width="12.3" height="125.5" fill="#ff2020"/>
<rect x="480.6" y="470" width="8.7" height="125.5" fill="#2222ff"/>
<rect x="489.3" y="470" width="8.8" height="125.5" fill="#1f8b1f"/>
<rect x="498.1" y="470" width="1.9" height="125.5" fill="#2222ff"/>
<rect x="500.0" y="470" width="4.1" height="125.5" fill="#ffff20"/>
<rect x="504.1" y="470" width="2.1" height="125.5" fill="#ff2020"/>
<rect x="506.2" y="470" width="3.7" height="125.5" fill="#1f8b1f"/>
<rect x="509.9" y="470" width="6.9" height="125.5" fill="#ffff20"/>
<rect x="516.8" y="470" width="2.2" height="125.5" fill="#2222ff"/>
<rect x="519.0" y="470" width="2.2" height="125.5" fill="#ffff20"/>
<rect x="521.2" y="470" width="2.5" height="125.5" fill="#2222ff"/>
<rect x="523.7" y="470" width="1.8" height="125.5" fill="#ff2020"/>
<rect x="525.5" y="470" width="2.5" height="125.5" fill="#1f8b1f"/>
<rect x="528.0" y="470" width="3.8" height="125.5" fill="#2222ff"/>
<rect x="531.8" y="470" width="11.0" height="125.5" fill="#1f8b1f"/>
<rect x="542.8" y="470" width="2.3" height="125.5" fill="#ffff20"/>
<rect x="545.1" y="470" width="10.0" height="125.5" fill="#ff2020"/>
<rect x="555.1" y="470" width="2.9" height="125.5" fill="#1f8b1f"/>
<rect x="558.0" y="470" width="3.7" height="125.5" fill="#ff2020"/>
<rect x="561.7" y="470" width="2.1" height="125.5" fill="#2222ff"/>
<rect x="563.8" y="470" width="6.3" height="125.5" fill="#ffff20"/>
<rect x="570.1" y="470" width="12.8" height="125.5" fill="#2222ff"/>
<rect x="582.9" y="470" width="2.2" height="125.5" fill="#1f8b1f"/>
<rect x="585.1" y="470" width="4.1" height="125.5" fill="#2222ff"/>
<rect x="589.2" y="470" width="1.9" height="125.5" fill="#ffff20"/>
<rect x="591.1" y="470" width="2.8" height="125.5" fill="#1f8b1f"/>
<rect x="593.9" y="470" width="10.6" height="125.5" fill="#2222ff"/>
<rect x="604.5" y="470" width="8.5" height="125.5" fill="#ff2020"/>
<rect x="613.0" y="470" width="2.0" height="125.5" fill="#2222ff"/>
<rect x="615.0" y="470" width="4.4" height="125.5" fill="#1f8b1f"/>
<rect x="619.4" y="470" width="4.3" height="125.5" fill="#2222ff"/>
<rect x="623.7" y="470" width="25.6" height="125.5" fill="#1f8b1f"/>
<rect x="649.3" y="470" width="1.9" height="125.5" fill="#ff2020"/>
<rect x="651.2" y="470" width="4.0" height="125.5" fill="#ffff20"/>
<rect x="655.2" y="470" width="2.8" height="125.5" fill="#1f8b1f"/>
<rect x="658.0" y="470" width="6.3" height="125.5" fill="#ff2020"/>
<rect x="664.3" y="470" width="29.9" height="125.5" fill="#ffff20"/>
<rect x="694.2" y="470" width="4.4" height="125.5" fill="#2222ff"/>
<rect x="698.6" y="470" width="3.5" height="125.5" fill="#1f8b1f"/>
<rect x="702.1" y="470" width="7.1" height="125.5" fill="#ffff20"/>
<rect x="709.2" y="470" width="19.1" height="125.5" fill="#ff2020"/>
<rect x="728.3" y="470" width="6.5" height="125.5" fill="#2222ff"/>
<rect x="734.8" y="470" width="1.5" height="125.5" fill="#1f8b1f"/>
<rect x="736.3" y="470" width="2.6" height="125.5" fill="#2222ff"/>
<rect x="738.9" y="470" width="12.1" height="125.5" fill="#ffff20"/>
<rect x="751.0" y="470" width="4.7" height="125.5" fill="#ff2020"/>
<rect x="755.7" y="470" width="2.5" height="125.5" fill="#2222ff"/>
<rect x="758.2" y="470" width="3.7" height="125.5" fill="#ff2020"/>
<rect x="761.9" y="470" width="6.8" height="125.5" fill="#2222ff"/>
<rect x="768.7" y="470" width="12.3" height="125.5" fill="#1f8b1f"/>
<rect x="781.0" y="470" width="4.3" height="125.5" fill="#ffff20"/>
<rect x="785.3" y="470" width="2.8" height="125.5" fill="#2222ff"/>
<rect x="788.1" y="470" width="5.8" height="125.5" fill="#1f8b1f"/>
<rect x="793.9" y="470" width="6.3" height="125.5" fill="#ffff20"/>
<rect x="800.2" y="470" width="2.8" height="125.5" fill="#2222ff"/>
<rect x="803.0" y="470" width="1.9" height="125.5" fill="#ffff20"/>
<rect x="804.9" y="470" width="13.1" height="125.5" fill="#1f8b1f"/>
<rect x="818.0" y="470" width="2.1" height="125.5" fill="#ff2020"/>
<rect x="820.1" y="470" width="25.0" height="125.5" fill="#1f8b1f"/>
<rect x="845.1" y="470" width="28.5" height="125.5" fill="#ffff20"/>
<rect x="873.6" y="470" width="1.4" height="125.5" fill="#ff2020"/>
<rect x="875.0" y="470" width="4.2" height="125.5" fill="#2222ff"/>
<rect x="879.2" y="470" width="1.8" height="125.5" fill="#ffff20"/>
<rect x="881.0" y="470" width="17.7" height="125.5" fill="#ff2020"/>
<rect x="898.7" y="470" width="1.5" height="125.5" fill="#2222ff"/>
<rect x="900.2" y="470" width="2.9" height="125.5" fill="#ffff20"/>
<rect x="903.1" y="470" width="6.2" height="125.5" fill="#2222ff"/>
<rect x="909.3" y="470" width="1.7" height="125.5" fill="#1f8b1f"/>
<rect x="911.0" y="470" width="2.9" height="125.5" fill="#ffff20"/>
<rect x="913.9" y="470" width="4.2" height="125.5" fill="#2222ff"/>
<rect x="918.1" y="470" width="3.1" height="125.5" fill="#1f8b1f"/>
<rect x="921.2" y="470" width="2.9" height="125.5" fill="#ffff20"/>
<rect x="924.1" y="470" width="4.3" height="125.5" fill="#2222ff"/>
<rect x="928.4" y="470" width="1.8" height="125.5" fill="#ffff20"/>
<rect x="930.2" y="470" width="4.7" height="125.5" fill="#ff2020"/>
<rect x="934.9" y="470" width="1.5" height="125.5" fill="#2222ff"/>
<rect x="936.4" y="470" width="4.5" height="125.5" fill="#ffff20"/>
<rect x="940.9" y="470" width="16.7" height="125.5" fill="#ff2020"/>
<defs><pattern id="gp" x="57" y="0" width="2.128" height="10" patternUnits="userSpaceOnUse"><rect x="1.5" y="0" width="0.63" height="10" fill="#fff" fill-opacity="0.3"/></pattern></defs>
<rect x="56" y="470" width="901.6" height="125.5" fill="url(#gp)"/>
<rect x="56" y="495" width="901.6" height="1" fill="#000" fill-opacity="0.06"/>
<rect x="56" y="545" width="901.6" height="1" fill="#000" fill-opacity="0.06"/>
<rect x="56" y="595" width="902" height="1" fill="#35b6c8"/>
<rect x="55" y="1" width="1" height="640" fill="#4d4d4d"/>
<rect x="1116" y="1" width="1" height="640" fill="#4d4d4d"/>
<rect x="0" y="26" width="1200" height="1" fill="#4d4d4d"/>
<rect x="0" y="384" width="1200" height="1" fill="#4d4d4d"/>
<rect x="0" y="425" width="1200" height="1" fill="#4d4d4d"/>
<rect x="0" y="463" width="1200" height="1" fill="#4d4d4d"/>
<rect x="0" y="603" width="1200" height="1" fill="#4d4d4d"/>
<rect x="1117" y="77" width="3" height="1" fill="#4d4d4d"/>
<rect x="1117" y="142" width="3" height="1" fill="#4d4d4d"/>
<rect x="1117" y="207" width="3" height="1" fill="#4d4d4d"/>
<rect x="1117" y="272" width="3" height="1" fill="#4d4d4d"/>
<rect x="1117" y="416" width="3" height="1" fill="#4d4d4d"/>
<rect x="1117" y="495" width="3" height="1" fill="#4d4d4d"/>
<rect x="1117" y="545" width="3" height="1" fill="#4d4d4d"/>
<rect x="1117" y="595" width="3" height="1" fill="#4d4d4d"/>
<rect x="52" y="416" width="3" height="1" fill="#4d4d4d"/>
<rect x="103" y="604" width="1" height="3" fill="#4d4d4d"/>
<rect x="256.4" y="604" width="1" height="3" fill="#4d4d4d"/>
<rect x="384.7" y="604" width="1" height="3" fill="#4d4d4d"/>
<rect x="512" y="604" width="1" height="3" fill="#4d4d4d"/>
<rect x="640" y="604" width="1" height="3" fill="#4d4d4d"/>
<rect x="767.9" y="604" width="1" height="3" fill="#4d4d4d"/>
<rect x="896.1" y="604" width="1" height="3" fill="#4d4d4d"/>
<rect x="1023.9" y="604" width="1" height="3" fill="#4d4d4d"/>
</svg>
<div class="topline"></div><div class="botline"></div>
<div class="exit"></div>
<div class="bx" style="left:60px;top:31.5px;width:576px;height:21px"></div><div class="bx" style="left:60px;top:52.5px;width:117px;height:21px"></div><div class="bx" style="left:60px;top:73.5px;width:102px;height:21px"></div><div class="bx" style="left:60px;top:94.5px;width:341px;height:21px"></div><div class="bx" style="left:60px;top:115.5px;width:123px;height:21px"></div><div class="bx" style="left:60px;top:136.5px;width:123px;height:21px"></div><div class="bx" style="left:60px;top:157.5px;width:130px;height:21px"></div><div class="bx" style="left:60px;top:389.5px;width:96px;height:21px"></div><div class="bx" style="left:60px;top:410.2px;width:96px;height:14.8px"></div><div class="bx" style="left:60px;top:429.5px;width:84px;height:21px"></div><div class="bx" style="left:60px;top:470px;width:232px;height:17.7px"></div>
<div class="collapse"><svg width="21" height="16" viewBox="0 0 21 16" style="display:block"><path d="M8.2 9.9L11.7 6.6l3.5 3.3" fill="none" stroke="#3a3f55" stroke-width="1.5"/></svg></div>
<div class="tag" style="top:227px;background:#37781f"><i></i></div>
<div class="tag" style="top:313px;background:#0a0aff"><i></i></div>
<svg class="eye" style="left:141.6px;top:76.7px" width="16" height="14" viewBox="0 0 16 14"><path d="M1 7C2.8 3.8 5.2 2.4 8 2.4S13.2 3.8 15 7C13.2 10.2 10.8 11.6 8 11.6S2.8 10.2 1 7Z" fill="none" stroke="#2f3241" stroke-width="1.1"/><circle cx="8" cy="7" r="2.4" fill="none" stroke="#2f3241" stroke-width="1.1"/><path d="M2.6 12.4L13.4 1.6" stroke="#2f3241" stroke-width="1.2"/></svg><svg class="eye" style="left:134.9px;top:392.6px" width="16" height="14" viewBox="0 0 16 14"><path d="M1 7C2.8 3.8 5.2 2.4 8 2.4S13.2 3.8 15 7C13.2 10.2 10.8 11.6 8 11.6S2.8 10.2 1 7Z" fill="none" stroke="#2f3241" stroke-width="1.1"/><circle cx="8" cy="7" r="2.4" fill="none" stroke="#2f3241" stroke-width="1.1"/><path d="M2.6 12.4L13.4 1.6" stroke="#2f3241" stroke-width="1.2"/></svg><svg class="eye" style="left:134.9px;top:413.2px;clip-path:inset(0 0 2.3px 0)" width="16" height="14" viewBox="0 0 16 14"><path d="M1 7C2.8 3.8 5.2 2.4 8 2.4S13.2 3.8 15 7C13.2 10.2 10.8 11.6 8 11.6S2.8 10.2 1 7Z" fill="none" stroke="#2f3241" stroke-width="1.1"/><circle cx="8" cy="7" r="2.4" fill="none" stroke="#2f3241" stroke-width="1.1"/><path d="M2.6 12.4L13.4 1.6" stroke="#2f3241" stroke-width="1.2"/></svg><svg class="eye" style="left:123.1px;top:432.6px" width="16" height="14" viewBox="0 0 16 14"><path d="M1 7C2.8 3.8 5.2 2.4 8 2.4S13.2 3.8 15 7C13.2 10.2 10.8 11.6 8 11.6S2.8 10.2 1 7Z" fill="none" stroke="#2f3241" stroke-width="1.1"/><circle cx="8" cy="7" r="2.4" fill="none" stroke="#2f3241" stroke-width="1.1"/><path d="M2.6 12.4L13.4 1.6" stroke="#2f3241" stroke-width="1.2"/></svg>
<span class="t" style="left:64.2px;top:34.6px;font-size:13px;line-height:16px;color:#505050;font-weight:400;letter-spacing:0.52px;z-index:5">U.S. Dollar / Canadian Dollar</span>
<span class="t" style="left:250.5px;top:34.6px;font-size:13px;line-height:16px;color:#505050;font-weight:400;letter-spacing:0.00px;z-index:5">·</span>
<span class="t" style="left:258.0px;top:34.6px;font-size:13px;line-height:16px;color:#505050;font-weight:400;letter-spacing:-1.47px;z-index:5">60</span>
<span class="t" style="left:276.1px;top:34.6px;font-size:13px;line-height:16px;color:#505050;font-weight:400;letter-spacing:0.00px;z-index:5">·</span>
<span class="t" style="left:283.6px;top:34.6px;font-size:13px;line-height:16px;color:#505050;font-weight:400;letter-spacing:-1.38px;z-index:5">FXCM</span>
<span class="t" style="left:325.9px;top:35.8px;font-size:11px;line-height:13px;color:#2f6b3e;font-weight:400;letter-spacing:-0.22px;z-index:5">O1.40294</span>
<span class="t" style="left:379.9px;top:35.8px;font-size:11px;line-height:13px;color:#2f6b3e;font-weight:400;letter-spacing:-0.16px;z-index:5">H1.40706</span>
<span class="t" style="left:434.0px;top:35.8px;font-size:11px;line-height:13px;color:#2f6b3e;font-weight:400;letter-spacing:-0.10px;z-index:5">L1.40290</span>
<span class="t" style="left:485.6px;top:35.8px;font-size:11px;line-height:13px;color:#2f6b3e;font-weight:400;letter-spacing:-0.16px;z-index:5">C1.40497</span>
<span class="t" style="left:538.3px;top:35.8px;font-size:11px;line-height:13px;color:#2f6b3e;font-weight:400;letter-spacing:-0.33px;z-index:5">+0.00203</span>
<span class="t" style="left:588.4px;top:35.8px;font-size:11px;line-height:13px;color:#2f6b3e;font-weight:400;letter-spacing:-0.56px;z-index:5">(+0.14%)</span>
<span class="t" style="left:64.3px;top:56.5px;font-size:11px;line-height:13px;color:#505050;font-weight:400;letter-spacing:-0.08px;z-index:5">MA 21 close</span>
<span class="t" style="left:132.5px;top:56.5px;font-size:11px;line-height:13px;color:#22b8d1;font-weight:400;letter-spacing:-0.11px;z-index:5">1.41376</span>
<span class="t" style="left:64.3px;top:77.5px;font-size:11px;line-height:13px;color:#b6bac6;font-weight:400;letter-spacing:-0.11px;z-index:5">BB 21 close 2</span>
<span class="t" style="left:64.4px;top:98.5px;font-size:11px;line-height:13px;color:#505050;font-weight:400;letter-spacing:0.10px;z-index:5">Ichimoku 9 26 52 26</span>
<span class="t" style="left:174.9px;top:98.5px;font-size:11px;line-height:13px;color:#2196f3;font-weight:400;letter-spacing:-0.39px;z-index:5">1.40871</span>
<span class="t" style="left:220.0px;top:98.5px;font-size:11px;line-height:13px;color:#a32323;font-weight:400;letter-spacing:-0.29px;z-index:5">1.40995</span>
<span class="t" style="left:265.6px;top:98.5px;font-size:11px;line-height:13px;color:#43a047;font-weight:400;letter-spacing:-0.23px;z-index:5">1.40503</span>
<span class="t" style="left:310.6px;top:98.5px;font-size:11px;line-height:13px;color:#43a047;font-weight:400;letter-spacing:-0.14px;z-index:5">1.41732</span>
<span class="t" style="left:356.4px;top:98.5px;font-size:11px;line-height:13px;color:#f8585e;font-weight:400;letter-spacing:-0.19px;z-index:5">1.41483</span>
<span class="t" style="left:64.4px;top:119.5px;font-size:11px;line-height:13px;color:#505050;font-weight:400;letter-spacing:-0.26px;z-index:5">EMA 55 close</span>
<span class="t" style="left:138.4px;top:119.5px;font-size:11px;line-height:13px;color:#ff9800;font-weight:400;letter-spacing:-0.14px;z-index:5">1.41412</span>
<span class="t" style="left:64.4px;top:140.5px;font-size:11px;line-height:13px;color:#505050;font-weight:400;letter-spacing:-0.15px;z-index:5">MA 200 close</span>
<span class="t" style="left:137.8px;top:140.5px;font-size:11px;line-height:13px;color:#43a047;font-weight:400;letter-spacing:-0.04px;z-index:5">1.40669</span>
<span class="t" style="left:64.4px;top:161.5px;font-size:11px;line-height:13px;color:#505050;font-weight:400;letter-spacing:-0.20px;z-index:5">EMA 200 close</span>
<span class="t" style="left:144.3px;top:161.5px;font-size:11px;line-height:13px;color:#8e1b1b;font-weight:400;letter-spacing:0.02px;z-index:5">1.41009</span>
<span class="t" style="left:64.4px;top:393.5px;font-size:11px;line-height:13px;color:#b6bac6;font-weight:400;letter-spacing:-0.17px;z-index:5">CCI 50 close</span>
<span class="t" style="left:64.4px;top:414.2px;font-size:11px;line-height:13px;color:#b6bac6;font-weight:400;letter-spacing:-0.17px;z-index:5">CCI 50 close</span>
<span class="t" style="left:64.4px;top:433.5px;font-size:11px;line-height:13px;color:#b6bac6;font-weight:400;letter-spacing:-0.27px;z-index:5">DMI 14 14</span>
<span class="t" style="left:64.2px;top:471.3px;font-size:11px;line-height:13px;color:#505050;font-weight:400;letter-spacing:0.09px;z-index:5">CAM indicator 10 10 12 26</span>
<span class="t" style="left:204.7px;top:471.3px;font-size:11px;line-height:13px;color:#e8222e;font-weight:400;letter-spacing:0.02px;z-index:5">0.50000</span>
<span class="t" style="left:250.4px;top:471.3px;font-size:11px;line-height:13px;color:#35a8e0;font-weight:400;letter-spacing:-0.03px;z-index:5">0.00000</span>
<span class="t" style="left:554.0px;top:0.5px;font-size:9.6px;line-height:12px;color:#bbbbbb;font-weight:400;letter-spacing:0.03px;z-index:5">Exit Full Screen (ESC)</span>
<span class="t" style="left:1128.3px;top:69.0px;font-size:15px;line-height:18px;color:#505050;font-weight:400;letter-spacing:0.94px;z-index:5">1.43000</span>
<span class="t" style="left:1128.3px;top:134.0px;font-size:15px;line-height:18px;color:#505050;font-weight:400;letter-spacing:0.94px;z-index:5">1.42000</span>
<span class="t" style="left:1128.3px;top:199.0px;font-size:15px;line-height:18px;color:#505050;font-weight:400;letter-spacing:0.94px;z-index:5">1.41000</span>
<span class="t" style="left:1128.3px;top:264.0px;font-size:15px;line-height:18px;color:#505050;font-weight:400;letter-spacing:0.94px;z-index:5">1.40000</span>
<span class="t" style="left:1128.3px;top:329.5px;font-size:15px;line-height:18px;color:#505050;font-weight:400;letter-spacing:0.94px;z-index:5">1.39000</span>
<span class="t" style="left:1128.3px;top:487.0px;font-size:15px;line-height:18px;color:#505050;font-weight:400;letter-spacing:0.94px;z-index:5">0.40000</span>
<span class="t" style="left:1128.3px;top:537.0px;font-size:15px;line-height:18px;color:#505050;font-weight:400;letter-spacing:0.94px;z-index:5">0.20000</span>
<span class="t" style="left:1128.3px;top:587.0px;font-size:15px;line-height:18px;color:#505050;font-weight:400;letter-spacing:0.94px;z-index:5">0.00000</span>
<span class="t" style="left:1128.3px;top:406.8px;font-size:15px;line-height:18px;color:#505050;font-weight:400;letter-spacing:1.07px;z-index:5">0.00</span>
<span class="t" style="left:10.5px;top:406.8px;font-size:15px;line-height:18px;color:#505050;font-weight:400;letter-spacing:1.57px;z-index:5">0.00</span>
<span class="t" style="left:1128.1px;top:230.7px;font-size:15px;line-height:18px;color:#fff;font-weight:700;letter-spacing:0.99px;z-index:5">1.40497</span>
<span class="t" style="left:1128.1px;top:316.2px;font-size:15px;line-height:18px;color:#fff;font-weight:700;letter-spacing:0.99px;z-index:5">1.39176</span>
<span class="t" style="left:89.1px;top:613.0px;font-size:16px;line-height:19px;color:#505050;font-weight:700;letter-spacing:-0.23px;z-index:5">Apr</span>
<span class="t" style="left:252.2px;top:613.0px;font-size:16px;line-height:19px;color:#505050;font-weight:400;letter-spacing:0.00px;z-index:5">6</span>
<span class="t" style="left:363.7px;top:613.0px;font-size:16px;line-height:19px;color:#505050;font-weight:400;letter-spacing:0.39px;z-index:5">12:00</span>
<span class="t" style="left:504.3px;top:613.0px;font-size:16px;line-height:19px;color:#505050;font-weight:400;letter-spacing:-1.20px;z-index:5">13</span>
<span class="t" style="left:619.6px;top:613.0px;font-size:16px;line-height:19px;color:#505050;font-weight:400;letter-spacing:0.49px;z-index:5">12:00</span>
<span class="t" style="left:759.4px;top:613.0px;font-size:16px;line-height:19px;color:#505050;font-weight:400;letter-spacing:-0.50px;z-index:5">20</span>
<span class="t" style="left:875.3px;top:613.0px;font-size:16px;line-height:19px;color:#505050;font-weight:400;letter-spacing:0.51px;z-index:5">12:00</span>
<span class="t" style="left:1014.7px;top:613.0px;font-size:16px;line-height:19px;color:#505050;font-weight:400;letter-spacing:0.50px;z-index:5">27</span>
<div class="circ" style="left:20px;top:615px">Z</div>
<div class="circ" style="left:1151px;top:615px">A</div>
</body></html>
